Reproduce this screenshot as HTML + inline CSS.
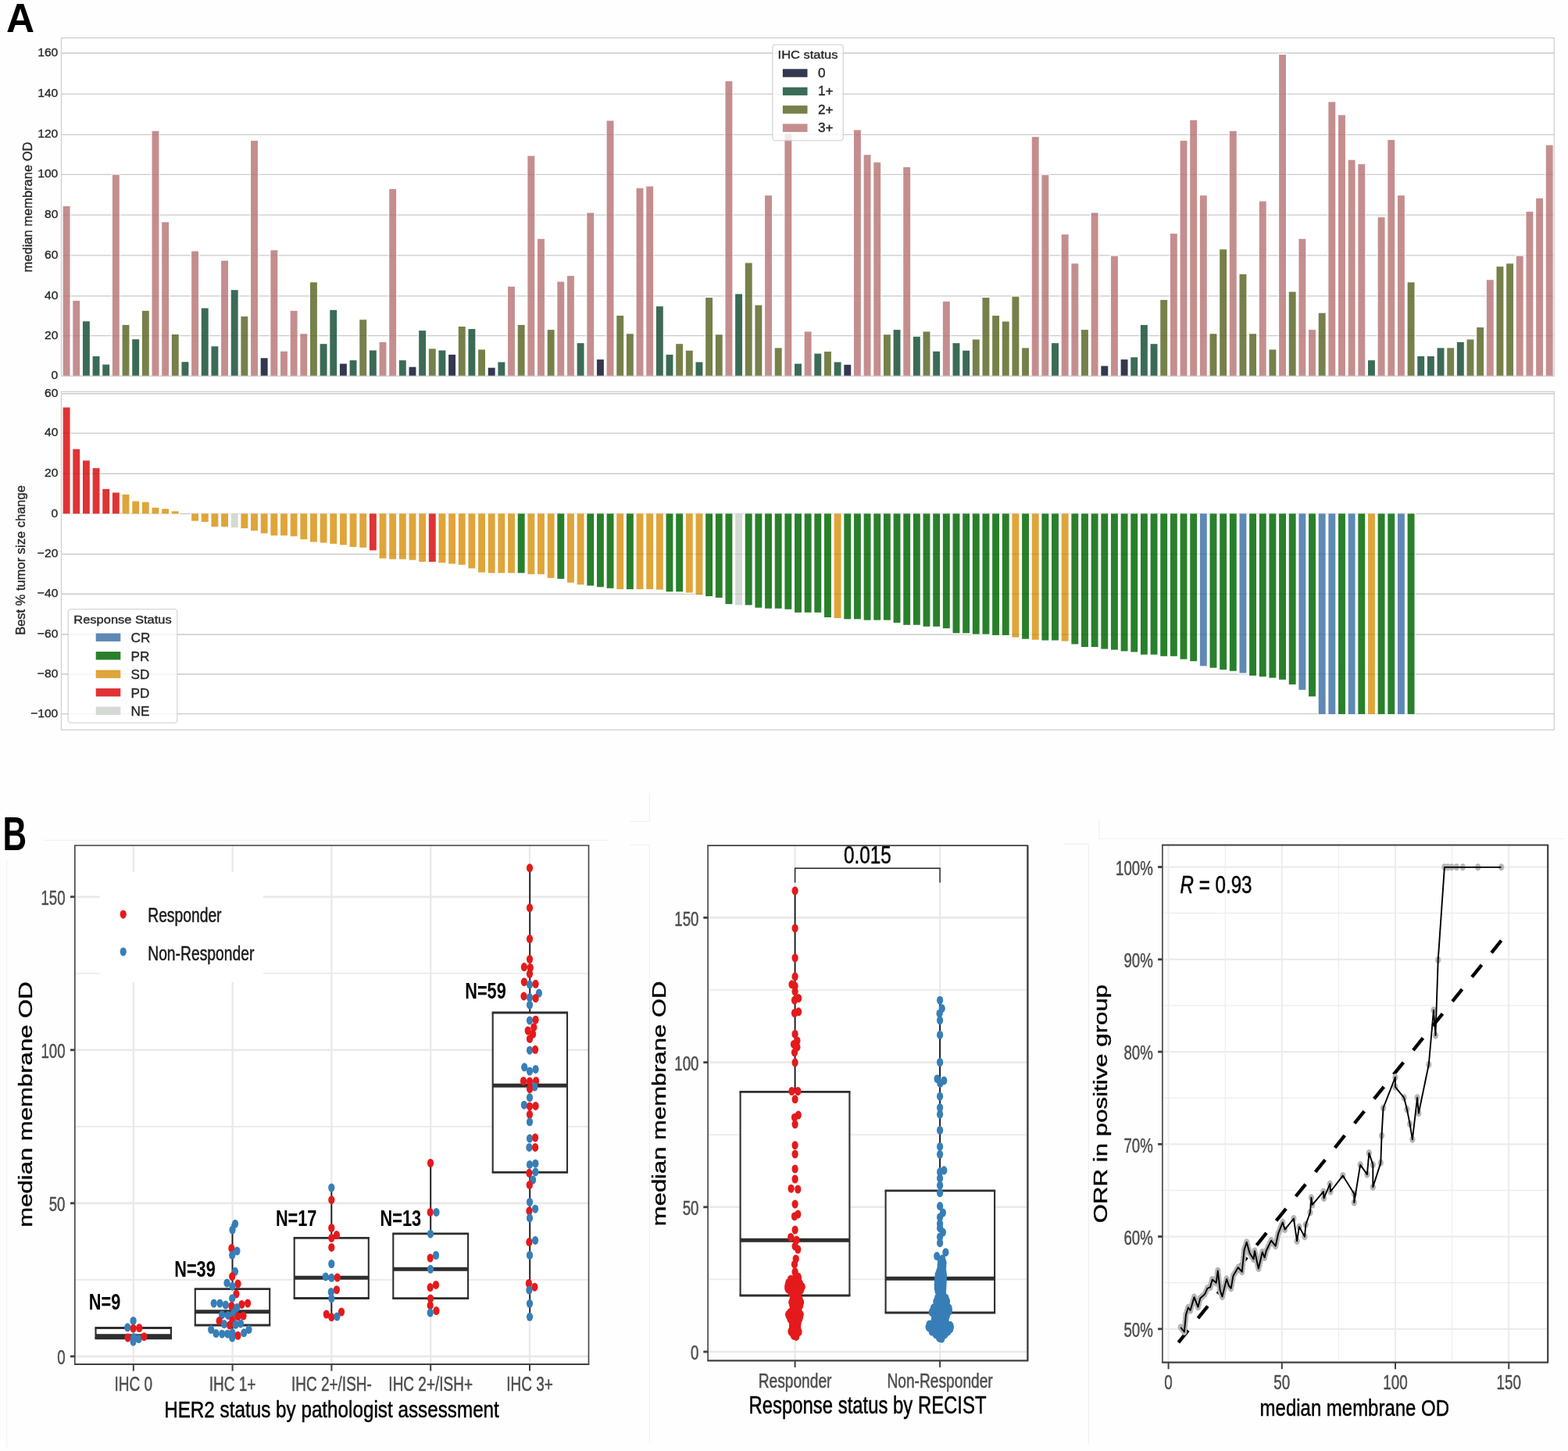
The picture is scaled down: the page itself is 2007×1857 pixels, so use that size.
<!DOCTYPE html>
<html lang="en"><head><meta charset="utf-8"><title>Figure</title>
<style>
html,body{margin:0;padding:0;background:#fff}
body{width:2007px;height:1857px;overflow:hidden}
svg{display:block}
svg text{font-family:"Liberation Sans",sans-serif;white-space:pre}
</style></head><body>
<svg xmlns="http://www.w3.org/2000/svg" width="2007" height="1857" viewBox="0 0 2007 1857">
<rect width="2007" height="1857" fill="#fefefe"/>
<line x1="55" y1="1075.4" x2="777.4" y2="1075.4" stroke="#f1f1f1" stroke-width="1.2"/>
<line x1="8.7" y1="1102" x2="8.7" y2="1852" stroke="#f1f1f1" stroke-width="1.2"/>
<line x1="805.9" y1="1051.4" x2="831.4" y2="1051.4" stroke="#f1f1f1" stroke-width="1.2"/>
<line x1="831.4" y1="1015.3" x2="831.4" y2="1051.4" stroke="#f1f1f1" stroke-width="1.2"/>
<line x1="805.9" y1="1081.4" x2="831.4" y2="1081.4" stroke="#f1f1f1" stroke-width="1.2"/>
<line x1="831.4" y1="1081.4" x2="831.4" y2="1846.5" stroke="#f1f1f1" stroke-width="1.2"/>
<line x1="1406.8" y1="1073.5" x2="2003" y2="1073.5" stroke="#f1f1f1" stroke-width="1.2"/>
<line x1="1406.8" y1="1048.5" x2="1406.8" y2="1073.5" stroke="#f1f1f1" stroke-width="1.2"/>
<line x1="1361.7" y1="1080.2" x2="1393.4" y2="1080.2" stroke="#f1f1f1" stroke-width="1.2"/>
<line x1="1393.4" y1="1080.2" x2="1393.4" y2="1848.8" stroke="#f1f1f1" stroke-width="1.2"/>
<g id="barsTop">
<rect x="78.5" y="48.5" width="1910.8" height="432.8" fill="#fff"/>
<line x1="78.5" y1="481.2" x2="1989.3" y2="481.2" stroke="#dbdbdb" stroke-width="1.4"/>
<line x1="78.5" y1="429.6" x2="1989.3" y2="429.6" stroke="#dbdbdb" stroke-width="1.4"/>
<line x1="78.5" y1="378.9" x2="1989.3" y2="378.9" stroke="#dbdbdb" stroke-width="1.4"/>
<line x1="78.5" y1="326.9" x2="1989.3" y2="326.9" stroke="#dbdbdb" stroke-width="1.4"/>
<line x1="78.5" y1="275.1" x2="1989.3" y2="275.1" stroke="#dbdbdb" stroke-width="1.4"/>
<line x1="78.5" y1="223.4" x2="1989.3" y2="223.4" stroke="#dbdbdb" stroke-width="1.4"/>
<line x1="78.5" y1="172.4" x2="1989.3" y2="172.4" stroke="#dbdbdb" stroke-width="1.4"/>
<line x1="78.5" y1="120.4" x2="1989.3" y2="120.4" stroke="#dbdbdb" stroke-width="1.4"/>
<line x1="78.5" y1="68" x2="1989.3" y2="68" stroke="#dbdbdb" stroke-width="1.4"/>
<rect x="79.03" y="262.3" width="12.1" height="219" fill="#fff"/>
<rect x="80.63" y="263.9" width="8.9" height="217.4" fill="#C58E8E"/>
<rect x="91.68" y="383.28" width="12.1" height="98.02" fill="#fff"/>
<rect x="93.28" y="384.88" width="8.9" height="96.42" fill="#C58E8E"/>
<rect x="104.34" y="409.65" width="12.1" height="71.65" fill="#fff"/>
<rect x="105.94" y="411.25" width="8.9" height="70.05" fill="#3B6B56"/>
<rect x="116.99" y="454.37" width="12.1" height="26.93" fill="#fff"/>
<rect x="118.59" y="455.97" width="8.9" height="25.33" fill="#3B6B56"/>
<rect x="129.64" y="464.97" width="12.1" height="16.33" fill="#fff"/>
<rect x="131.24" y="466.57" width="8.9" height="14.73" fill="#3B6B56"/>
<rect x="142.3" y="222.23" width="12.1" height="259.07" fill="#fff"/>
<rect x="143.9" y="223.83" width="8.9" height="257.47" fill="#C58E8E"/>
<rect x="154.95" y="414.3" width="12.1" height="67" fill="#fff"/>
<rect x="156.55" y="415.9" width="8.9" height="65.4" fill="#76804A"/>
<rect x="167.61" y="432.65" width="12.1" height="48.65" fill="#fff"/>
<rect x="169.21" y="434.25" width="8.9" height="47.05" fill="#3B6B56"/>
<rect x="180.26" y="396.2" width="12.1" height="85.1" fill="#fff"/>
<rect x="181.86" y="397.8" width="8.9" height="83.5" fill="#76804A"/>
<rect x="192.92" y="166.14" width="12.1" height="315.16" fill="#fff"/>
<rect x="194.52" y="167.74" width="8.9" height="313.56" fill="#C58E8E"/>
<rect x="205.57" y="282.72" width="12.1" height="198.58" fill="#fff"/>
<rect x="207.17" y="284.32" width="8.9" height="196.98" fill="#C58E8E"/>
<rect x="218.22" y="426.45" width="12.1" height="54.85" fill="#fff"/>
<rect x="219.82" y="428.05" width="8.9" height="53.25" fill="#76804A"/>
<rect x="230.88" y="461.61" width="12.1" height="19.69" fill="#fff"/>
<rect x="232.48" y="463.21" width="8.9" height="18.09" fill="#3B6B56"/>
<rect x="243.53" y="319.95" width="12.1" height="161.35" fill="#fff"/>
<rect x="245.13" y="321.55" width="8.9" height="159.75" fill="#C58E8E"/>
<rect x="256.19" y="392.84" width="12.1" height="88.46" fill="#fff"/>
<rect x="257.79" y="394.44" width="8.9" height="86.86" fill="#3B6B56"/>
<rect x="268.84" y="441.7" width="12.1" height="39.6" fill="#fff"/>
<rect x="270.44" y="443.3" width="8.9" height="38" fill="#3B6B56"/>
<rect x="281.5" y="332.1" width="12.1" height="149.2" fill="#fff"/>
<rect x="283.1" y="333.7" width="8.9" height="147.6" fill="#C58E8E"/>
<rect x="294.15" y="369.58" width="12.1" height="111.72" fill="#fff"/>
<rect x="295.75" y="371.18" width="8.9" height="110.12" fill="#3B6B56"/>
<rect x="306.8" y="403.44" width="12.1" height="77.86" fill="#fff"/>
<rect x="308.4" y="405.04" width="8.9" height="76.26" fill="#76804A"/>
<rect x="319.46" y="178.55" width="12.1" height="302.75" fill="#fff"/>
<rect x="321.06" y="180.15" width="8.9" height="301.15" fill="#C58E8E"/>
<rect x="332.11" y="456.69" width="12.1" height="24.61" fill="#fff"/>
<rect x="333.71" y="458.29" width="8.9" height="23.01" fill="#33374F"/>
<rect x="344.77" y="318.65" width="12.1" height="162.65" fill="#fff"/>
<rect x="346.37" y="320.25" width="8.9" height="161.05" fill="#C58E8E"/>
<rect x="357.42" y="448.16" width="12.1" height="33.14" fill="#fff"/>
<rect x="359.02" y="449.76" width="8.9" height="31.54" fill="#C58E8E"/>
<rect x="370.08" y="396.2" width="12.1" height="85.1" fill="#fff"/>
<rect x="371.68" y="397.8" width="8.9" height="83.5" fill="#C58E8E"/>
<rect x="382.73" y="425.67" width="12.1" height="55.63" fill="#fff"/>
<rect x="384.33" y="427.27" width="8.9" height="54.03" fill="#C58E8E"/>
<rect x="395.38" y="359.76" width="12.1" height="121.54" fill="#fff"/>
<rect x="396.98" y="361.36" width="8.9" height="119.94" fill="#76804A"/>
<rect x="408.04" y="438.6" width="12.1" height="42.7" fill="#fff"/>
<rect x="409.64" y="440.2" width="8.9" height="41.1" fill="#3B6B56"/>
<rect x="420.69" y="395.17" width="12.1" height="86.13" fill="#fff"/>
<rect x="422.29" y="396.77" width="8.9" height="84.53" fill="#3B6B56"/>
<rect x="433.35" y="463.93" width="12.1" height="17.37" fill="#fff"/>
<rect x="434.95" y="465.53" width="8.9" height="15.77" fill="#33374F"/>
<rect x="446" y="459.54" width="12.1" height="21.76" fill="#fff"/>
<rect x="447.6" y="461.14" width="8.9" height="20.16" fill="#3B6B56"/>
<rect x="458.66" y="407.58" width="12.1" height="73.72" fill="#fff"/>
<rect x="460.26" y="409.18" width="8.9" height="72.12" fill="#76804A"/>
<rect x="471.31" y="446.87" width="12.1" height="34.43" fill="#fff"/>
<rect x="472.91" y="448.47" width="8.9" height="32.83" fill="#3B6B56"/>
<rect x="483.96" y="436.27" width="12.1" height="45.03" fill="#fff"/>
<rect x="485.56" y="437.87" width="8.9" height="43.43" fill="#C58E8E"/>
<rect x="496.62" y="240.33" width="12.1" height="240.97" fill="#fff"/>
<rect x="498.22" y="241.93" width="8.9" height="239.37" fill="#C58E8E"/>
<rect x="509.27" y="459.54" width="12.1" height="21.76" fill="#fff"/>
<rect x="510.87" y="461.14" width="8.9" height="20.16" fill="#3B6B56"/>
<rect x="521.93" y="468.07" width="12.1" height="13.23" fill="#fff"/>
<rect x="523.53" y="469.67" width="8.9" height="11.63" fill="#33374F"/>
<rect x="534.58" y="421.54" width="12.1" height="59.76" fill="#fff"/>
<rect x="536.18" y="423.14" width="8.9" height="58.16" fill="#3B6B56"/>
<rect x="547.24" y="444.8" width="12.1" height="36.5" fill="#fff"/>
<rect x="548.84" y="446.4" width="8.9" height="34.9" fill="#76804A"/>
<rect x="559.89" y="446.87" width="12.1" height="34.43" fill="#fff"/>
<rect x="561.49" y="448.47" width="8.9" height="32.83" fill="#3B6B56"/>
<rect x="572.55" y="452.3" width="12.1" height="29" fill="#fff"/>
<rect x="574.15" y="453.9" width="8.9" height="27.4" fill="#33374F"/>
<rect x="585.2" y="416.37" width="12.1" height="64.93" fill="#fff"/>
<rect x="586.8" y="417.97" width="8.9" height="63.33" fill="#76804A"/>
<rect x="597.85" y="419.47" width="12.1" height="61.83" fill="#fff"/>
<rect x="599.45" y="421.07" width="8.9" height="60.23" fill="#3B6B56"/>
<rect x="610.51" y="445.84" width="12.1" height="35.46" fill="#fff"/>
<rect x="612.11" y="447.44" width="8.9" height="33.86" fill="#76804A"/>
<rect x="623.16" y="469.1" width="12.1" height="12.2" fill="#fff"/>
<rect x="624.76" y="470.7" width="8.9" height="10.6" fill="#33374F"/>
<rect x="635.82" y="461.86" width="12.1" height="19.44" fill="#fff"/>
<rect x="637.42" y="463.46" width="8.9" height="17.84" fill="#3B6B56"/>
<rect x="648.47" y="365.18" width="12.1" height="116.12" fill="#fff"/>
<rect x="650.07" y="366.78" width="8.9" height="114.52" fill="#C58E8E"/>
<rect x="661.13" y="414.3" width="12.1" height="67" fill="#fff"/>
<rect x="662.73" y="415.9" width="8.9" height="65.4" fill="#76804A"/>
<rect x="673.78" y="197.94" width="12.1" height="283.37" fill="#fff"/>
<rect x="675.38" y="199.54" width="8.9" height="281.76" fill="#C58E8E"/>
<rect x="686.43" y="304.18" width="12.1" height="177.12" fill="#fff"/>
<rect x="688.03" y="305.78" width="8.9" height="175.52" fill="#C58E8E"/>
<rect x="699.09" y="420.5" width="12.1" height="60.8" fill="#fff"/>
<rect x="700.69" y="422.1" width="8.9" height="59.2" fill="#76804A"/>
<rect x="711.74" y="358.98" width="12.1" height="122.32" fill="#fff"/>
<rect x="713.34" y="360.58" width="8.9" height="120.72" fill="#C58E8E"/>
<rect x="724.4" y="351.48" width="12.1" height="129.82" fill="#fff"/>
<rect x="726" y="353.08" width="8.9" height="128.22" fill="#C58E8E"/>
<rect x="737.05" y="437.56" width="12.1" height="43.74" fill="#fff"/>
<rect x="738.65" y="439.16" width="8.9" height="42.14" fill="#3B6B56"/>
<rect x="749.71" y="270.83" width="12.1" height="210.47" fill="#fff"/>
<rect x="751.31" y="272.43" width="8.9" height="208.87" fill="#C58E8E"/>
<rect x="762.36" y="458.5" width="12.1" height="22.8" fill="#fff"/>
<rect x="763.96" y="460.1" width="8.9" height="21.2" fill="#33374F"/>
<rect x="775.01" y="152.96" width="12.1" height="328.34" fill="#fff"/>
<rect x="776.61" y="154.56" width="8.9" height="326.74" fill="#C58E8E"/>
<rect x="787.67" y="402.41" width="12.1" height="78.89" fill="#fff"/>
<rect x="789.27" y="404.01" width="8.9" height="77.29" fill="#76804A"/>
<rect x="800.32" y="425.67" width="12.1" height="55.63" fill="#fff"/>
<rect x="801.92" y="427.27" width="8.9" height="54.03" fill="#76804A"/>
<rect x="812.98" y="239.3" width="12.1" height="242" fill="#fff"/>
<rect x="814.58" y="240.9" width="8.9" height="240.41" fill="#C58E8E"/>
<rect x="825.63" y="236.97" width="12.1" height="244.33" fill="#fff"/>
<rect x="827.23" y="238.57" width="8.9" height="242.73" fill="#C58E8E"/>
<rect x="838.29" y="390.52" width="12.1" height="90.78" fill="#fff"/>
<rect x="839.89" y="392.12" width="8.9" height="89.18" fill="#3B6B56"/>
<rect x="850.94" y="452.3" width="12.1" height="29" fill="#fff"/>
<rect x="852.54" y="453.9" width="8.9" height="27.4" fill="#3B6B56"/>
<rect x="863.59" y="438.6" width="12.1" height="42.7" fill="#fff"/>
<rect x="865.19" y="440.2" width="8.9" height="41.1" fill="#76804A"/>
<rect x="876.25" y="447.13" width="12.1" height="34.17" fill="#fff"/>
<rect x="877.85" y="448.73" width="8.9" height="32.57" fill="#76804A"/>
<rect x="888.9" y="461.86" width="12.1" height="19.44" fill="#fff"/>
<rect x="890.5" y="463.46" width="8.9" height="17.84" fill="#3B6B56"/>
<rect x="901.56" y="379.4" width="12.1" height="101.9" fill="#fff"/>
<rect x="903.16" y="381" width="8.9" height="100.3" fill="#76804A"/>
<rect x="914.21" y="426.71" width="12.1" height="54.59" fill="#fff"/>
<rect x="915.81" y="428.31" width="8.9" height="52.99" fill="#76804A"/>
<rect x="926.87" y="102.29" width="12.1" height="379.01" fill="#fff"/>
<rect x="928.47" y="103.89" width="8.9" height="377.41" fill="#C58E8E"/>
<rect x="939.52" y="374.75" width="12.1" height="106.55" fill="#fff"/>
<rect x="941.12" y="376.35" width="8.9" height="104.95" fill="#3B6B56"/>
<rect x="952.17" y="334.94" width="12.1" height="146.36" fill="#fff"/>
<rect x="953.77" y="336.54" width="8.9" height="144.76" fill="#76804A"/>
<rect x="964.83" y="388.97" width="12.1" height="92.33" fill="#fff"/>
<rect x="966.43" y="390.57" width="8.9" height="90.73" fill="#76804A"/>
<rect x="977.48" y="248.6" width="12.1" height="232.7" fill="#fff"/>
<rect x="979.08" y="250.2" width="8.9" height="231.1" fill="#C58E8E"/>
<rect x="990.14" y="443.77" width="12.1" height="37.53" fill="#fff"/>
<rect x="991.74" y="445.37" width="8.9" height="35.93" fill="#76804A"/>
<rect x="1002.79" y="169.5" width="12.1" height="311.8" fill="#fff"/>
<rect x="1004.39" y="171.1" width="8.9" height="310.2" fill="#C58E8E"/>
<rect x="1015.45" y="463.93" width="12.1" height="17.37" fill="#fff"/>
<rect x="1017.05" y="465.53" width="8.9" height="15.77" fill="#3B6B56"/>
<rect x="1028.1" y="422.83" width="12.1" height="58.47" fill="#fff"/>
<rect x="1029.7" y="424.43" width="8.9" height="56.87" fill="#C58E8E"/>
<rect x="1040.75" y="451.01" width="12.1" height="30.29" fill="#fff"/>
<rect x="1042.35" y="452.61" width="8.9" height="28.69" fill="#3B6B56"/>
<rect x="1053.41" y="448.42" width="12.1" height="32.88" fill="#fff"/>
<rect x="1055.01" y="450.02" width="8.9" height="31.28" fill="#76804A"/>
<rect x="1066.06" y="461.86" width="12.1" height="19.44" fill="#fff"/>
<rect x="1067.66" y="463.46" width="8.9" height="17.84" fill="#3B6B56"/>
<rect x="1078.72" y="465.22" width="12.1" height="16.08" fill="#fff"/>
<rect x="1080.32" y="466.82" width="8.9" height="14.48" fill="#33374F"/>
<rect x="1091.37" y="164.85" width="12.1" height="316.45" fill="#fff"/>
<rect x="1092.97" y="166.45" width="8.9" height="314.85" fill="#C58E8E"/>
<rect x="1104.03" y="196.64" width="12.1" height="284.66" fill="#fff"/>
<rect x="1105.63" y="198.24" width="8.9" height="283.06" fill="#C58E8E"/>
<rect x="1116.68" y="206.21" width="12.1" height="275.09" fill="#fff"/>
<rect x="1118.28" y="207.81" width="8.9" height="273.49" fill="#C58E8E"/>
<rect x="1129.33" y="426.71" width="12.1" height="54.59" fill="#fff"/>
<rect x="1130.93" y="428.31" width="8.9" height="52.99" fill="#76804A"/>
<rect x="1141.99" y="420.5" width="12.1" height="60.8" fill="#fff"/>
<rect x="1143.59" y="422.1" width="8.9" height="59.2" fill="#3B6B56"/>
<rect x="1154.64" y="212.41" width="12.1" height="268.89" fill="#fff"/>
<rect x="1156.24" y="214.01" width="8.9" height="267.29" fill="#C58E8E"/>
<rect x="1167.3" y="429.29" width="12.1" height="52.01" fill="#fff"/>
<rect x="1168.9" y="430.89" width="8.9" height="50.41" fill="#3B6B56"/>
<rect x="1179.95" y="422.83" width="12.1" height="58.47" fill="#fff"/>
<rect x="1181.55" y="424.43" width="8.9" height="56.87" fill="#76804A"/>
<rect x="1192.61" y="448.16" width="12.1" height="33.14" fill="#fff"/>
<rect x="1194.21" y="449.76" width="8.9" height="31.54" fill="#3B6B56"/>
<rect x="1205.26" y="384.31" width="12.1" height="96.99" fill="#fff"/>
<rect x="1206.86" y="385.91" width="8.9" height="95.39" fill="#C58E8E"/>
<rect x="1217.91" y="437.56" width="12.1" height="43.74" fill="#fff"/>
<rect x="1219.51" y="439.16" width="8.9" height="42.14" fill="#3B6B56"/>
<rect x="1230.57" y="447.13" width="12.1" height="34.17" fill="#fff"/>
<rect x="1232.17" y="448.73" width="8.9" height="32.57" fill="#3B6B56"/>
<rect x="1243.22" y="432.91" width="12.1" height="48.39" fill="#fff"/>
<rect x="1244.82" y="434.51" width="8.9" height="46.79" fill="#76804A"/>
<rect x="1255.88" y="379.4" width="12.1" height="101.9" fill="#fff"/>
<rect x="1257.48" y="381" width="8.9" height="100.3" fill="#76804A"/>
<rect x="1268.53" y="402.41" width="12.1" height="78.89" fill="#fff"/>
<rect x="1270.13" y="404.01" width="8.9" height="77.29" fill="#76804A"/>
<rect x="1281.19" y="409.9" width="12.1" height="71.4" fill="#fff"/>
<rect x="1282.79" y="411.5" width="8.9" height="69.8" fill="#76804A"/>
<rect x="1293.84" y="378.11" width="12.1" height="103.19" fill="#fff"/>
<rect x="1295.44" y="379.71" width="8.9" height="101.59" fill="#76804A"/>
<rect x="1306.49" y="443.77" width="12.1" height="37.53" fill="#fff"/>
<rect x="1308.09" y="445.37" width="8.9" height="35.93" fill="#76804A"/>
<rect x="1319.15" y="173.64" width="12.1" height="307.66" fill="#fff"/>
<rect x="1320.75" y="175.24" width="8.9" height="306.06" fill="#C58E8E"/>
<rect x="1331.8" y="222.49" width="12.1" height="258.81" fill="#fff"/>
<rect x="1333.4" y="224.09" width="8.9" height="257.21" fill="#C58E8E"/>
<rect x="1344.46" y="437.56" width="12.1" height="43.74" fill="#fff"/>
<rect x="1346.06" y="439.16" width="8.9" height="42.14" fill="#3B6B56"/>
<rect x="1357.11" y="298.49" width="12.1" height="182.81" fill="#fff"/>
<rect x="1358.71" y="300.09" width="8.9" height="181.21" fill="#C58E8E"/>
<rect x="1369.77" y="335.72" width="12.1" height="145.58" fill="#fff"/>
<rect x="1371.37" y="337.32" width="8.9" height="143.98" fill="#C58E8E"/>
<rect x="1382.42" y="420.5" width="12.1" height="60.8" fill="#fff"/>
<rect x="1384.02" y="422.1" width="8.9" height="59.2" fill="#76804A"/>
<rect x="1395.07" y="270.83" width="12.1" height="210.47" fill="#fff"/>
<rect x="1396.67" y="272.43" width="8.9" height="208.87" fill="#C58E8E"/>
<rect x="1407.73" y="466.77" width="12.1" height="14.53" fill="#fff"/>
<rect x="1409.33" y="468.38" width="8.9" height="12.93" fill="#33374F"/>
<rect x="1420.38" y="326.15" width="12.1" height="155.15" fill="#fff"/>
<rect x="1421.98" y="327.75" width="8.9" height="153.55" fill="#C58E8E"/>
<rect x="1433.04" y="458.5" width="12.1" height="22.8" fill="#fff"/>
<rect x="1434.64" y="460.1" width="8.9" height="21.2" fill="#33374F"/>
<rect x="1445.69" y="455.66" width="12.1" height="25.64" fill="#fff"/>
<rect x="1447.29" y="457.26" width="8.9" height="24.04" fill="#3B6B56"/>
<rect x="1458.35" y="414.3" width="12.1" height="67" fill="#fff"/>
<rect x="1459.95" y="415.9" width="8.9" height="65.4" fill="#3B6B56"/>
<rect x="1471" y="438.6" width="12.1" height="42.7" fill="#fff"/>
<rect x="1472.6" y="440.2" width="8.9" height="41.1" fill="#3B6B56"/>
<rect x="1483.65" y="382.25" width="12.1" height="99.05" fill="#fff"/>
<rect x="1485.25" y="383.85" width="8.9" height="97.45" fill="#76804A"/>
<rect x="1496.31" y="297.46" width="12.1" height="183.84" fill="#fff"/>
<rect x="1497.91" y="299.06" width="8.9" height="182.24" fill="#C58E8E"/>
<rect x="1508.96" y="178.55" width="12.1" height="302.75" fill="#fff"/>
<rect x="1510.56" y="180.15" width="8.9" height="301.15" fill="#C58E8E"/>
<rect x="1521.62" y="152.18" width="12.1" height="329.12" fill="#fff"/>
<rect x="1523.22" y="153.78" width="8.9" height="327.52" fill="#C58E8E"/>
<rect x="1534.27" y="248.6" width="12.1" height="232.7" fill="#fff"/>
<rect x="1535.87" y="250.2" width="8.9" height="231.1" fill="#C58E8E"/>
<rect x="1546.93" y="425.67" width="12.1" height="55.63" fill="#fff"/>
<rect x="1548.53" y="427.27" width="8.9" height="54.03" fill="#76804A"/>
<rect x="1559.58" y="317.62" width="12.1" height="163.68" fill="#fff"/>
<rect x="1561.18" y="319.22" width="8.9" height="162.08" fill="#76804A"/>
<rect x="1572.24" y="166.14" width="12.1" height="315.16" fill="#fff"/>
<rect x="1573.84" y="167.74" width="8.9" height="313.56" fill="#C58E8E"/>
<rect x="1584.89" y="349.42" width="12.1" height="131.88" fill="#fff"/>
<rect x="1586.49" y="351.02" width="8.9" height="130.28" fill="#76804A"/>
<rect x="1597.54" y="425.67" width="12.1" height="55.63" fill="#fff"/>
<rect x="1599.14" y="427.27" width="8.9" height="54.03" fill="#76804A"/>
<rect x="1610.2" y="256.1" width="12.1" height="225.2" fill="#fff"/>
<rect x="1611.8" y="257.7" width="8.9" height="223.6" fill="#C58E8E"/>
<rect x="1622.85" y="445.84" width="12.1" height="35.46" fill="#fff"/>
<rect x="1624.45" y="447.44" width="8.9" height="33.86" fill="#76804A"/>
<rect x="1635.51" y="68.43" width="12.1" height="412.87" fill="#fff"/>
<rect x="1637.11" y="70.03" width="8.9" height="411.27" fill="#C58E8E"/>
<rect x="1648.16" y="371.91" width="12.1" height="109.39" fill="#fff"/>
<rect x="1649.76" y="373.51" width="8.9" height="107.79" fill="#76804A"/>
<rect x="1660.82" y="304.18" width="12.1" height="177.12" fill="#fff"/>
<rect x="1662.42" y="305.78" width="8.9" height="175.52" fill="#C58E8E"/>
<rect x="1673.47" y="420.5" width="12.1" height="60.8" fill="#fff"/>
<rect x="1675.07" y="422.1" width="8.9" height="59.2" fill="#C58E8E"/>
<rect x="1686.12" y="399.05" width="12.1" height="82.25" fill="#fff"/>
<rect x="1687.72" y="400.65" width="8.9" height="80.65" fill="#76804A"/>
<rect x="1698.78" y="128.92" width="12.1" height="352.38" fill="#fff"/>
<rect x="1700.38" y="130.52" width="8.9" height="350.78" fill="#C58E8E"/>
<rect x="1711.43" y="145.72" width="12.1" height="335.58" fill="#fff"/>
<rect x="1713.03" y="147.32" width="8.9" height="333.98" fill="#C58E8E"/>
<rect x="1724.09" y="203.11" width="12.1" height="278.19" fill="#fff"/>
<rect x="1725.69" y="204.71" width="8.9" height="276.59" fill="#C58E8E"/>
<rect x="1736.74" y="208.53" width="12.1" height="272.77" fill="#fff"/>
<rect x="1738.34" y="210.13" width="8.9" height="271.17" fill="#C58E8E"/>
<rect x="1749.4" y="459.54" width="12.1" height="21.76" fill="#fff"/>
<rect x="1751" y="461.14" width="8.9" height="20.16" fill="#3B6B56"/>
<rect x="1762.05" y="276.52" width="12.1" height="204.78" fill="#fff"/>
<rect x="1763.65" y="278.12" width="8.9" height="203.18" fill="#C58E8E"/>
<rect x="1774.7" y="177.51" width="12.1" height="303.79" fill="#fff"/>
<rect x="1776.3" y="179.11" width="8.9" height="302.19" fill="#C58E8E"/>
<rect x="1787.36" y="248.6" width="12.1" height="232.7" fill="#fff"/>
<rect x="1788.96" y="250.2" width="8.9" height="231.1" fill="#C58E8E"/>
<rect x="1800.01" y="359.76" width="12.1" height="121.54" fill="#fff"/>
<rect x="1801.61" y="361.36" width="8.9" height="119.94" fill="#76804A"/>
<rect x="1812.67" y="454.37" width="12.1" height="26.93" fill="#fff"/>
<rect x="1814.27" y="455.97" width="8.9" height="25.33" fill="#3B6B56"/>
<rect x="1825.32" y="454.37" width="12.1" height="26.93" fill="#fff"/>
<rect x="1826.92" y="455.97" width="8.9" height="25.33" fill="#3B6B56"/>
<rect x="1837.98" y="443.77" width="12.1" height="37.53" fill="#fff"/>
<rect x="1839.58" y="445.37" width="8.9" height="35.93" fill="#3B6B56"/>
<rect x="1850.63" y="443.77" width="12.1" height="37.53" fill="#fff"/>
<rect x="1852.23" y="445.37" width="8.9" height="35.93" fill="#76804A"/>
<rect x="1863.28" y="436.27" width="12.1" height="45.03" fill="#fff"/>
<rect x="1864.88" y="437.87" width="8.9" height="43.43" fill="#3B6B56"/>
<rect x="1875.94" y="432.91" width="12.1" height="48.39" fill="#fff"/>
<rect x="1877.54" y="434.51" width="8.9" height="46.79" fill="#76804A"/>
<rect x="1888.59" y="417.4" width="12.1" height="63.9" fill="#fff"/>
<rect x="1890.19" y="419" width="8.9" height="62.3" fill="#76804A"/>
<rect x="1901.25" y="356.65" width="12.1" height="124.65" fill="#fff"/>
<rect x="1902.85" y="358.25" width="8.9" height="123.05" fill="#C58E8E"/>
<rect x="1913.9" y="339.59" width="12.1" height="141.71" fill="#fff"/>
<rect x="1915.5" y="341.19" width="8.9" height="140.11" fill="#76804A"/>
<rect x="1926.56" y="335.72" width="12.1" height="145.58" fill="#fff"/>
<rect x="1928.16" y="337.32" width="8.9" height="143.98" fill="#76804A"/>
<rect x="1939.21" y="326.15" width="12.1" height="155.15" fill="#fff"/>
<rect x="1940.81" y="327.75" width="8.9" height="153.55" fill="#C58E8E"/>
<rect x="1951.86" y="269.28" width="12.1" height="212.02" fill="#fff"/>
<rect x="1953.46" y="270.88" width="8.9" height="210.42" fill="#C58E8E"/>
<rect x="1964.52" y="252.22" width="12.1" height="229.08" fill="#fff"/>
<rect x="1966.12" y="253.82" width="8.9" height="227.48" fill="#C58E8E"/>
<rect x="1977.17" y="184.23" width="12.1" height="297.07" fill="#fff"/>
<rect x="1978.77" y="185.83" width="8.9" height="295.47" fill="#C58E8E"/>
<line x1="78.5" y1="429.6" x2="1989.3" y2="429.6" stroke="#000" stroke-width="1.4" opacity="0.07"/>
<line x1="78.5" y1="378.9" x2="1989.3" y2="378.9" stroke="#000" stroke-width="1.4" opacity="0.07"/>
<line x1="78.5" y1="326.9" x2="1989.3" y2="326.9" stroke="#000" stroke-width="1.4" opacity="0.07"/>
<line x1="78.5" y1="275.1" x2="1989.3" y2="275.1" stroke="#000" stroke-width="1.4" opacity="0.07"/>
<line x1="78.5" y1="223.4" x2="1989.3" y2="223.4" stroke="#000" stroke-width="1.4" opacity="0.07"/>
<line x1="78.5" y1="172.4" x2="1989.3" y2="172.4" stroke="#000" stroke-width="1.4" opacity="0.07"/>
<line x1="78.5" y1="120.4" x2="1989.3" y2="120.4" stroke="#000" stroke-width="1.4" opacity="0.07"/>
<line x1="78.5" y1="68" x2="1989.3" y2="68" stroke="#000" stroke-width="1.4" opacity="0.07"/>
<rect x="78.5" y="48.5" width="1910.8" height="432.8" fill="none" stroke="#cfcfcf" stroke-width="1.3"/>
</g>
<text transform="translate(74.3,485.2) scale(1.02,1)" font-size="15.3" text-anchor="end" fill="#262626" stroke="#262626" stroke-width="0.35">0</text>
<text transform="translate(74.3,433.6) scale(1.02,1)" font-size="15.3" text-anchor="end" fill="#262626" stroke="#262626" stroke-width="0.35">20</text>
<text transform="translate(74.3,382.9) scale(1.02,1)" font-size="15.3" text-anchor="end" fill="#262626" stroke="#262626" stroke-width="0.35">40</text>
<text transform="translate(74.3,330.9) scale(1.02,1)" font-size="15.3" text-anchor="end" fill="#262626" stroke="#262626" stroke-width="0.35">60</text>
<text transform="translate(74.3,279.1) scale(1.02,1)" font-size="15.3" text-anchor="end" fill="#262626" stroke="#262626" stroke-width="0.35">80</text>
<text transform="translate(74.3,227.4) scale(1.02,1)" font-size="15.3" text-anchor="end" fill="#262626" stroke="#262626" stroke-width="0.35">100</text>
<text transform="translate(74.3,176.4) scale(1.02,1)" font-size="15.3" text-anchor="end" fill="#262626" stroke="#262626" stroke-width="0.35">120</text>
<text transform="translate(74.3,124.4) scale(1.02,1)" font-size="15.3" text-anchor="end" fill="#262626" stroke="#262626" stroke-width="0.35">140</text>
<text transform="translate(74.3,72) scale(1.02,1)" font-size="15.3" text-anchor="end" fill="#262626" stroke="#262626" stroke-width="0.35">160</text>
<text transform="translate(41,265) rotate(-90)" font-size="16.5" text-anchor="middle" fill="#262626" stroke="#262626" stroke-width="0.35">median membrane OD</text>
<rect x="988.8" y="57.1" width="90.5" height="122.7" rx="3.5" fill="#fff" fill-opacity="0.8" stroke="#ccc" stroke-opacity="0.8" stroke-width="1.3"/>
<text transform="translate(1034.05,75.2) scale(1.07,1)" font-size="15.4" text-anchor="middle" fill="#262626" stroke="#262626" stroke-width="0.35">IHC status</text>
<rect x="1001.9" y="88.3" width="31.6" height="10.4" fill="#33374F"/>
<text transform="translate(1047,99) scale(1.04,1)" font-size="16.5" fill="#262626" stroke="#262626" stroke-width="0.35">0</text>
<rect x="1001.9" y="111.7" width="31.6" height="10.4" fill="#3B6B56"/>
<text transform="translate(1047,122.4) scale(1.04,1)" font-size="16.5" fill="#262626" stroke="#262626" stroke-width="0.35">1+</text>
<rect x="1001.9" y="135.1" width="31.6" height="10.4" fill="#76804A"/>
<text transform="translate(1047,145.8) scale(1.04,1)" font-size="16.5" fill="#262626" stroke="#262626" stroke-width="0.35">2+</text>
<rect x="1001.9" y="158.5" width="31.6" height="10.4" fill="#C58E8E"/>
<text transform="translate(1047,169.2) scale(1.04,1)" font-size="16.5" fill="#262626" stroke="#262626" stroke-width="0.35">3+</text>
<g id="barsWF">
<rect x="78.5" y="501.2" width="1910.8" height="432.8" fill="#fff"/>
<line x1="78.5" y1="913.6" x2="1989.3" y2="913.6" stroke="#dbdbdb" stroke-width="1.4"/>
<line x1="78.5" y1="862.7" x2="1989.3" y2="862.7" stroke="#dbdbdb" stroke-width="1.4"/>
<line x1="78.5" y1="812" x2="1989.3" y2="812" stroke="#dbdbdb" stroke-width="1.4"/>
<line x1="78.5" y1="760.2" x2="1989.3" y2="760.2" stroke="#dbdbdb" stroke-width="1.4"/>
<line x1="78.5" y1="709.2" x2="1989.3" y2="709.2" stroke="#dbdbdb" stroke-width="1.4"/>
<line x1="78.5" y1="657.5" x2="1989.3" y2="657.5" stroke="#dbdbdb" stroke-width="1.4"/>
<line x1="78.5" y1="606.2" x2="1989.3" y2="606.2" stroke="#dbdbdb" stroke-width="1.4"/>
<line x1="78.5" y1="554.4" x2="1989.3" y2="554.4" stroke="#dbdbdb" stroke-width="1.4"/>
<line x1="78.5" y1="503.7" x2="1989.3" y2="503.7" stroke="#dbdbdb" stroke-width="1.4"/>
<rect x="79.03" y="519.85" width="12.1" height="139.15" fill="#fff"/>
<rect x="80.63" y="521.45" width="8.9" height="135.95" fill="#E03336"/>
<rect x="91.68" y="573.21" width="12.1" height="85.79" fill="#fff"/>
<rect x="93.28" y="574.81" width="8.9" height="82.59" fill="#E03336"/>
<rect x="104.34" y="587.83" width="12.1" height="71.17" fill="#fff"/>
<rect x="105.94" y="589.43" width="8.9" height="67.97" fill="#E03336"/>
<rect x="116.99" y="597.57" width="12.1" height="61.43" fill="#fff"/>
<rect x="118.59" y="599.17" width="8.9" height="58.23" fill="#E03336"/>
<rect x="129.64" y="624.25" width="12.1" height="34.75" fill="#fff"/>
<rect x="131.24" y="625.85" width="8.9" height="31.55" fill="#E03336"/>
<rect x="142.3" y="628.87" width="12.1" height="30.13" fill="#fff"/>
<rect x="143.9" y="630.47" width="8.9" height="26.93" fill="#E03336"/>
<rect x="154.95" y="631.18" width="12.1" height="27.82" fill="#fff"/>
<rect x="156.55" y="632.78" width="8.9" height="24.62" fill="#DFA53A"/>
<rect x="167.61" y="639.9" width="12.1" height="19.1" fill="#fff"/>
<rect x="169.21" y="641.5" width="8.9" height="15.9" fill="#DFA53A"/>
<rect x="180.26" y="640.92" width="12.1" height="18.08" fill="#fff"/>
<rect x="181.86" y="642.52" width="8.9" height="14.88" fill="#DFA53A"/>
<rect x="192.92" y="648.1" width="12.1" height="10.9" fill="#fff"/>
<rect x="194.52" y="649.7" width="8.9" height="7.7" fill="#DFA53A"/>
<rect x="205.57" y="649.64" width="12.1" height="9.36" fill="#fff"/>
<rect x="207.17" y="651.24" width="8.9" height="6.16" fill="#DFA53A"/>
<rect x="218.22" y="652.72" width="12.1" height="6.28" fill="#fff"/>
<rect x="219.82" y="654.32" width="8.9" height="3.08" fill="#DFA53A"/>
<rect x="243.53" y="655.8" width="12.1" height="12.43" fill="#fff"/>
<rect x="245.13" y="657.4" width="8.9" height="9.23" fill="#DFA53A"/>
<rect x="256.19" y="655.8" width="12.1" height="13.72" fill="#fff"/>
<rect x="257.79" y="657.4" width="8.9" height="10.52" fill="#DFA53A"/>
<rect x="268.84" y="655.8" width="12.1" height="19.87" fill="#fff"/>
<rect x="270.44" y="657.4" width="8.9" height="16.67" fill="#DFA53A"/>
<rect x="281.5" y="655.8" width="12.1" height="19.87" fill="#fff"/>
<rect x="283.1" y="657.4" width="8.9" height="16.67" fill="#DFA53A"/>
<rect x="294.15" y="655.8" width="12.1" height="20.9" fill="#fff"/>
<rect x="295.75" y="657.4" width="8.9" height="17.7" fill="#D4D9D3"/>
<rect x="306.8" y="655.8" width="12.1" height="21.92" fill="#fff"/>
<rect x="308.4" y="657.4" width="8.9" height="18.72" fill="#DFA53A"/>
<rect x="319.46" y="655.8" width="12.1" height="25" fill="#fff"/>
<rect x="321.06" y="657.4" width="8.9" height="21.8" fill="#DFA53A"/>
<rect x="332.11" y="655.8" width="12.1" height="28.34" fill="#fff"/>
<rect x="333.71" y="657.4" width="8.9" height="25.14" fill="#DFA53A"/>
<rect x="344.77" y="655.8" width="12.1" height="31.16" fill="#fff"/>
<rect x="346.37" y="657.4" width="8.9" height="27.96" fill="#DFA53A"/>
<rect x="357.42" y="655.8" width="12.1" height="31.16" fill="#fff"/>
<rect x="359.02" y="657.4" width="8.9" height="27.96" fill="#DFA53A"/>
<rect x="370.08" y="655.8" width="12.1" height="32.18" fill="#fff"/>
<rect x="371.68" y="657.4" width="8.9" height="28.98" fill="#DFA53A"/>
<rect x="382.73" y="655.8" width="12.1" height="36.03" fill="#fff"/>
<rect x="384.33" y="657.4" width="8.9" height="32.83" fill="#DFA53A"/>
<rect x="395.38" y="655.8" width="12.1" height="39.37" fill="#fff"/>
<rect x="396.98" y="657.4" width="8.9" height="36.17" fill="#DFA53A"/>
<rect x="408.04" y="655.8" width="12.1" height="40.39" fill="#fff"/>
<rect x="409.64" y="657.4" width="8.9" height="37.19" fill="#DFA53A"/>
<rect x="420.69" y="655.8" width="12.1" height="41.68" fill="#fff"/>
<rect x="422.29" y="657.4" width="8.9" height="38.48" fill="#DFA53A"/>
<rect x="433.35" y="655.8" width="12.1" height="43.21" fill="#fff"/>
<rect x="434.95" y="657.4" width="8.9" height="40.01" fill="#DFA53A"/>
<rect x="446" y="655.8" width="12.1" height="45.78" fill="#fff"/>
<rect x="447.6" y="657.4" width="8.9" height="42.58" fill="#DFA53A"/>
<rect x="458.66" y="655.8" width="12.1" height="46.55" fill="#fff"/>
<rect x="460.26" y="657.4" width="8.9" height="43.35" fill="#DFA53A"/>
<rect x="471.31" y="655.8" width="12.1" height="50.14" fill="#fff"/>
<rect x="472.91" y="657.4" width="8.9" height="46.94" fill="#E03336"/>
<rect x="483.96" y="655.8" width="12.1" height="60.4" fill="#fff"/>
<rect x="485.56" y="657.4" width="8.9" height="57.2" fill="#DFA53A"/>
<rect x="496.62" y="655.8" width="12.1" height="61.43" fill="#fff"/>
<rect x="498.22" y="657.4" width="8.9" height="58.23" fill="#DFA53A"/>
<rect x="509.27" y="655.8" width="12.1" height="61.43" fill="#fff"/>
<rect x="510.87" y="657.4" width="8.9" height="58.23" fill="#DFA53A"/>
<rect x="521.93" y="655.8" width="12.1" height="62.45" fill="#fff"/>
<rect x="523.53" y="657.4" width="8.9" height="59.25" fill="#DFA53A"/>
<rect x="534.58" y="655.8" width="12.1" height="64.76" fill="#fff"/>
<rect x="536.18" y="657.4" width="8.9" height="61.56" fill="#DFA53A"/>
<rect x="547.24" y="655.8" width="12.1" height="64.76" fill="#fff"/>
<rect x="548.84" y="657.4" width="8.9" height="61.56" fill="#E03336"/>
<rect x="559.89" y="655.8" width="12.1" height="66.04" fill="#fff"/>
<rect x="561.49" y="657.4" width="8.9" height="62.84" fill="#DFA53A"/>
<rect x="572.55" y="655.8" width="12.1" height="67.33" fill="#fff"/>
<rect x="574.15" y="657.4" width="8.9" height="64.12" fill="#DFA53A"/>
<rect x="585.2" y="655.8" width="12.1" height="68.61" fill="#fff"/>
<rect x="586.8" y="657.4" width="8.9" height="65.41" fill="#DFA53A"/>
<rect x="597.85" y="655.8" width="12.1" height="73.22" fill="#fff"/>
<rect x="599.45" y="657.4" width="8.9" height="70.02" fill="#DFA53A"/>
<rect x="610.51" y="655.8" width="12.1" height="78.35" fill="#fff"/>
<rect x="612.11" y="657.4" width="8.9" height="75.15" fill="#DFA53A"/>
<rect x="623.16" y="655.8" width="12.1" height="79.12" fill="#fff"/>
<rect x="624.76" y="657.4" width="8.9" height="75.92" fill="#DFA53A"/>
<rect x="635.82" y="655.8" width="12.1" height="79.12" fill="#fff"/>
<rect x="637.42" y="657.4" width="8.9" height="75.92" fill="#DFA53A"/>
<rect x="648.47" y="655.8" width="12.1" height="79.12" fill="#fff"/>
<rect x="650.07" y="657.4" width="8.9" height="75.92" fill="#DFA53A"/>
<rect x="661.13" y="655.8" width="12.1" height="79.12" fill="#fff"/>
<rect x="662.73" y="657.4" width="8.9" height="75.92" fill="#29802B"/>
<rect x="673.78" y="655.8" width="12.1" height="80.66" fill="#fff"/>
<rect x="675.38" y="657.4" width="8.9" height="77.46" fill="#DFA53A"/>
<rect x="686.43" y="655.8" width="12.1" height="80.66" fill="#fff"/>
<rect x="688.03" y="657.4" width="8.9" height="77.46" fill="#DFA53A"/>
<rect x="699.09" y="655.8" width="12.1" height="85.54" fill="#fff"/>
<rect x="700.69" y="657.4" width="8.9" height="82.34" fill="#DFA53A"/>
<rect x="711.74" y="655.8" width="12.1" height="86.56" fill="#fff"/>
<rect x="713.34" y="657.4" width="8.9" height="83.36" fill="#29802B"/>
<rect x="724.4" y="655.8" width="12.1" height="91.44" fill="#fff"/>
<rect x="726" y="657.4" width="8.9" height="88.24" fill="#DFA53A"/>
<rect x="737.05" y="655.8" width="12.1" height="94" fill="#fff"/>
<rect x="738.65" y="657.4" width="8.9" height="90.8" fill="#DFA53A"/>
<rect x="749.71" y="655.8" width="12.1" height="95.28" fill="#fff"/>
<rect x="751.31" y="657.4" width="8.9" height="92.08" fill="#29802B"/>
<rect x="762.36" y="655.8" width="12.1" height="97.08" fill="#fff"/>
<rect x="763.96" y="657.4" width="8.9" height="93.88" fill="#29802B"/>
<rect x="775.01" y="655.8" width="12.1" height="98.62" fill="#fff"/>
<rect x="776.61" y="657.4" width="8.9" height="95.42" fill="#29802B"/>
<rect x="787.67" y="655.8" width="12.1" height="99.9" fill="#fff"/>
<rect x="789.27" y="657.4" width="8.9" height="96.7" fill="#DFA53A"/>
<rect x="800.32" y="655.8" width="12.1" height="99.9" fill="#fff"/>
<rect x="801.92" y="657.4" width="8.9" height="96.7" fill="#29802B"/>
<rect x="812.98" y="655.8" width="12.1" height="99.9" fill="#fff"/>
<rect x="814.58" y="657.4" width="8.9" height="96.7" fill="#DFA53A"/>
<rect x="825.63" y="655.8" width="12.1" height="99.9" fill="#fff"/>
<rect x="827.23" y="657.4" width="8.9" height="96.7" fill="#DFA53A"/>
<rect x="838.29" y="655.8" width="12.1" height="100.41" fill="#fff"/>
<rect x="839.89" y="657.4" width="8.9" height="97.21" fill="#DFA53A"/>
<rect x="850.94" y="655.8" width="12.1" height="102.98" fill="#fff"/>
<rect x="852.54" y="657.4" width="8.9" height="99.78" fill="#29802B"/>
<rect x="863.59" y="655.8" width="12.1" height="102.98" fill="#fff"/>
<rect x="865.19" y="657.4" width="8.9" height="99.78" fill="#29802B"/>
<rect x="876.25" y="655.8" width="12.1" height="104.26" fill="#fff"/>
<rect x="877.85" y="657.4" width="8.9" height="101.06" fill="#DFA53A"/>
<rect x="888.9" y="655.8" width="12.1" height="106.83" fill="#fff"/>
<rect x="890.5" y="657.4" width="8.9" height="103.63" fill="#DFA53A"/>
<rect x="901.56" y="655.8" width="12.1" height="108.88" fill="#fff"/>
<rect x="903.16" y="657.4" width="8.9" height="105.68" fill="#29802B"/>
<rect x="914.21" y="655.8" width="12.1" height="110.67" fill="#fff"/>
<rect x="915.81" y="657.4" width="8.9" height="107.47" fill="#29802B"/>
<rect x="926.87" y="655.8" width="12.1" height="118.88" fill="#fff"/>
<rect x="928.47" y="657.4" width="8.9" height="115.68" fill="#29802B"/>
<rect x="939.52" y="655.8" width="12.1" height="120.16" fill="#fff"/>
<rect x="941.12" y="657.4" width="8.9" height="116.96" fill="#D4D9D3"/>
<rect x="952.17" y="655.8" width="12.1" height="120.16" fill="#fff"/>
<rect x="953.77" y="657.4" width="8.9" height="116.96" fill="#29802B"/>
<rect x="964.83" y="655.8" width="12.1" height="123.5" fill="#fff"/>
<rect x="966.43" y="657.4" width="8.9" height="120.3" fill="#29802B"/>
<rect x="977.48" y="655.8" width="12.1" height="124.52" fill="#fff"/>
<rect x="979.08" y="657.4" width="8.9" height="121.32" fill="#29802B"/>
<rect x="990.14" y="655.8" width="12.1" height="124.52" fill="#fff"/>
<rect x="991.74" y="657.4" width="8.9" height="121.32" fill="#29802B"/>
<rect x="1002.79" y="655.8" width="12.1" height="125.55" fill="#fff"/>
<rect x="1004.39" y="657.4" width="8.9" height="122.35" fill="#29802B"/>
<rect x="1015.45" y="655.8" width="12.1" height="129.65" fill="#fff"/>
<rect x="1017.05" y="657.4" width="8.9" height="126.45" fill="#29802B"/>
<rect x="1028.1" y="655.8" width="12.1" height="129.65" fill="#fff"/>
<rect x="1029.7" y="657.4" width="8.9" height="126.45" fill="#29802B"/>
<rect x="1040.75" y="655.8" width="12.1" height="129.65" fill="#fff"/>
<rect x="1042.35" y="657.4" width="8.9" height="126.45" fill="#29802B"/>
<rect x="1053.41" y="655.8" width="12.1" height="135.81" fill="#fff"/>
<rect x="1055.01" y="657.4" width="8.9" height="132.61" fill="#29802B"/>
<rect x="1066.06" y="655.8" width="12.1" height="136.84" fill="#fff"/>
<rect x="1067.66" y="657.4" width="8.9" height="133.64" fill="#DFA53A"/>
<rect x="1078.72" y="655.8" width="12.1" height="138.12" fill="#fff"/>
<rect x="1080.32" y="657.4" width="8.9" height="134.92" fill="#29802B"/>
<rect x="1091.37" y="655.8" width="12.1" height="138.12" fill="#fff"/>
<rect x="1092.97" y="657.4" width="8.9" height="134.92" fill="#29802B"/>
<rect x="1104.03" y="655.8" width="12.1" height="139.4" fill="#fff"/>
<rect x="1105.63" y="657.4" width="8.9" height="136.2" fill="#29802B"/>
<rect x="1116.68" y="655.8" width="12.1" height="139.4" fill="#fff"/>
<rect x="1118.28" y="657.4" width="8.9" height="136.2" fill="#29802B"/>
<rect x="1129.33" y="655.8" width="12.1" height="139.4" fill="#fff"/>
<rect x="1130.93" y="657.4" width="8.9" height="136.2" fill="#29802B"/>
<rect x="1141.99" y="655.8" width="12.1" height="142.74" fill="#fff"/>
<rect x="1143.59" y="657.4" width="8.9" height="139.54" fill="#29802B"/>
<rect x="1154.64" y="655.8" width="12.1" height="145.56" fill="#fff"/>
<rect x="1156.24" y="657.4" width="8.9" height="142.36" fill="#29802B"/>
<rect x="1167.3" y="655.8" width="12.1" height="145.56" fill="#fff"/>
<rect x="1168.9" y="657.4" width="8.9" height="142.36" fill="#29802B"/>
<rect x="1179.95" y="655.8" width="12.1" height="147.61" fill="#fff"/>
<rect x="1181.55" y="657.4" width="8.9" height="144.41" fill="#29802B"/>
<rect x="1192.61" y="655.8" width="12.1" height="147.61" fill="#fff"/>
<rect x="1194.21" y="657.4" width="8.9" height="144.41" fill="#29802B"/>
<rect x="1205.26" y="655.8" width="12.1" height="149.92" fill="#fff"/>
<rect x="1206.86" y="657.4" width="8.9" height="146.72" fill="#29802B"/>
<rect x="1217.91" y="655.8" width="12.1" height="156.07" fill="#fff"/>
<rect x="1219.51" y="657.4" width="8.9" height="152.87" fill="#29802B"/>
<rect x="1230.57" y="655.8" width="12.1" height="156.07" fill="#fff"/>
<rect x="1232.17" y="657.4" width="8.9" height="152.87" fill="#29802B"/>
<rect x="1243.22" y="655.8" width="12.1" height="157.36" fill="#fff"/>
<rect x="1244.82" y="657.4" width="8.9" height="154.16" fill="#29802B"/>
<rect x="1255.88" y="655.8" width="12.1" height="157.36" fill="#fff"/>
<rect x="1257.48" y="657.4" width="8.9" height="154.16" fill="#29802B"/>
<rect x="1268.53" y="655.8" width="12.1" height="158.64" fill="#fff"/>
<rect x="1270.13" y="657.4" width="8.9" height="155.44" fill="#29802B"/>
<rect x="1281.19" y="655.8" width="12.1" height="158.64" fill="#fff"/>
<rect x="1282.79" y="657.4" width="8.9" height="155.44" fill="#29802B"/>
<rect x="1293.84" y="655.8" width="12.1" height="161.46" fill="#fff"/>
<rect x="1295.44" y="657.4" width="8.9" height="158.26" fill="#DFA53A"/>
<rect x="1306.49" y="655.8" width="12.1" height="163.51" fill="#fff"/>
<rect x="1308.09" y="657.4" width="8.9" height="160.31" fill="#29802B"/>
<rect x="1319.15" y="655.8" width="12.1" height="164.54" fill="#fff"/>
<rect x="1320.75" y="657.4" width="8.9" height="161.34" fill="#DFA53A"/>
<rect x="1331.8" y="655.8" width="12.1" height="165.31" fill="#fff"/>
<rect x="1333.4" y="657.4" width="8.9" height="162.11" fill="#29802B"/>
<rect x="1344.46" y="655.8" width="12.1" height="165.31" fill="#fff"/>
<rect x="1346.06" y="657.4" width="8.9" height="162.11" fill="#29802B"/>
<rect x="1357.11" y="655.8" width="12.1" height="166.33" fill="#fff"/>
<rect x="1358.71" y="657.4" width="8.9" height="163.13" fill="#DFA53A"/>
<rect x="1369.77" y="655.8" width="12.1" height="170.18" fill="#fff"/>
<rect x="1371.37" y="657.4" width="8.9" height="166.98" fill="#29802B"/>
<rect x="1382.42" y="655.8" width="12.1" height="173.77" fill="#fff"/>
<rect x="1384.02" y="657.4" width="8.9" height="170.57" fill="#29802B"/>
<rect x="1395.07" y="655.8" width="12.1" height="173.77" fill="#fff"/>
<rect x="1396.67" y="657.4" width="8.9" height="170.57" fill="#29802B"/>
<rect x="1407.73" y="655.8" width="12.1" height="176.34" fill="#fff"/>
<rect x="1409.33" y="657.4" width="8.9" height="173.14" fill="#29802B"/>
<rect x="1420.38" y="655.8" width="12.1" height="177.36" fill="#fff"/>
<rect x="1421.98" y="657.4" width="8.9" height="174.16" fill="#29802B"/>
<rect x="1433.04" y="655.8" width="12.1" height="179.16" fill="#fff"/>
<rect x="1434.64" y="657.4" width="8.9" height="175.96" fill="#29802B"/>
<rect x="1445.69" y="655.8" width="12.1" height="180.19" fill="#fff"/>
<rect x="1447.29" y="657.4" width="8.9" height="176.99" fill="#29802B"/>
<rect x="1458.35" y="655.8" width="12.1" height="183.52" fill="#fff"/>
<rect x="1459.95" y="657.4" width="8.9" height="180.32" fill="#29802B"/>
<rect x="1471" y="655.8" width="12.1" height="183.52" fill="#fff"/>
<rect x="1472.6" y="657.4" width="8.9" height="180.32" fill="#29802B"/>
<rect x="1483.65" y="655.8" width="12.1" height="185.57" fill="#fff"/>
<rect x="1485.25" y="657.4" width="8.9" height="182.37" fill="#29802B"/>
<rect x="1496.31" y="655.8" width="12.1" height="185.57" fill="#fff"/>
<rect x="1497.91" y="657.4" width="8.9" height="182.37" fill="#29802B"/>
<rect x="1508.96" y="655.8" width="12.1" height="189.42" fill="#fff"/>
<rect x="1510.56" y="657.4" width="8.9" height="186.22" fill="#29802B"/>
<rect x="1521.62" y="655.8" width="12.1" height="191.98" fill="#fff"/>
<rect x="1523.22" y="657.4" width="8.9" height="188.78" fill="#29802B"/>
<rect x="1534.27" y="655.8" width="12.1" height="198.14" fill="#fff"/>
<rect x="1535.87" y="657.4" width="8.9" height="194.94" fill="#5F89B5"/>
<rect x="1546.93" y="655.8" width="12.1" height="200.45" fill="#fff"/>
<rect x="1548.53" y="657.4" width="8.9" height="197.25" fill="#29802B"/>
<rect x="1559.58" y="655.8" width="12.1" height="202.76" fill="#fff"/>
<rect x="1561.18" y="657.4" width="8.9" height="199.56" fill="#29802B"/>
<rect x="1572.24" y="655.8" width="12.1" height="204.55" fill="#fff"/>
<rect x="1573.84" y="657.4" width="8.9" height="201.35" fill="#29802B"/>
<rect x="1584.89" y="655.8" width="12.1" height="207.12" fill="#fff"/>
<rect x="1586.49" y="657.4" width="8.9" height="203.92" fill="#5F89B5"/>
<rect x="1597.54" y="655.8" width="12.1" height="210.45" fill="#fff"/>
<rect x="1599.14" y="657.4" width="8.9" height="207.25" fill="#29802B"/>
<rect x="1610.2" y="655.8" width="12.1" height="211.73" fill="#fff"/>
<rect x="1611.8" y="657.4" width="8.9" height="208.53" fill="#29802B"/>
<rect x="1622.85" y="655.8" width="12.1" height="213.27" fill="#fff"/>
<rect x="1624.45" y="657.4" width="8.9" height="210.07" fill="#29802B"/>
<rect x="1635.51" y="655.8" width="12.1" height="215.58" fill="#fff"/>
<rect x="1637.11" y="657.4" width="8.9" height="212.38" fill="#29802B"/>
<rect x="1648.16" y="655.8" width="12.1" height="221.74" fill="#fff"/>
<rect x="1649.76" y="657.4" width="8.9" height="218.54" fill="#29802B"/>
<rect x="1660.82" y="655.8" width="12.1" height="228.66" fill="#fff"/>
<rect x="1662.42" y="657.4" width="8.9" height="225.46" fill="#5F89B5"/>
<rect x="1673.47" y="655.8" width="12.1" height="237.13" fill="#fff"/>
<rect x="1675.07" y="657.4" width="8.9" height="233.93" fill="#29802B"/>
<rect x="1686.12" y="655.8" width="12.1" height="259.7" fill="#fff"/>
<rect x="1687.72" y="657.4" width="8.9" height="256.5" fill="#5F89B5"/>
<rect x="1698.78" y="655.8" width="12.1" height="259.7" fill="#fff"/>
<rect x="1700.38" y="657.4" width="8.9" height="256.5" fill="#5F89B5"/>
<rect x="1711.43" y="655.8" width="12.1" height="259.7" fill="#fff"/>
<rect x="1713.03" y="657.4" width="8.9" height="256.5" fill="#29802B"/>
<rect x="1724.09" y="655.8" width="12.1" height="259.7" fill="#fff"/>
<rect x="1725.69" y="657.4" width="8.9" height="256.5" fill="#5F89B5"/>
<rect x="1736.74" y="655.8" width="12.1" height="259.7" fill="#fff"/>
<rect x="1738.34" y="657.4" width="8.9" height="256.5" fill="#29802B"/>
<rect x="1749.4" y="655.8" width="12.1" height="259.7" fill="#fff"/>
<rect x="1751" y="657.4" width="8.9" height="256.5" fill="#DFA53A"/>
<rect x="1762.05" y="655.8" width="12.1" height="259.7" fill="#fff"/>
<rect x="1763.65" y="657.4" width="8.9" height="256.5" fill="#29802B"/>
<rect x="1774.7" y="655.8" width="12.1" height="259.7" fill="#fff"/>
<rect x="1776.3" y="657.4" width="8.9" height="256.5" fill="#29802B"/>
<rect x="1787.36" y="655.8" width="12.1" height="259.7" fill="#fff"/>
<rect x="1788.96" y="657.4" width="8.9" height="256.5" fill="#5F89B5"/>
<rect x="1800.01" y="655.8" width="12.1" height="259.7" fill="#fff"/>
<rect x="1801.61" y="657.4" width="8.9" height="256.5" fill="#29802B"/>
<line x1="78.5" y1="913.6" x2="1989.3" y2="913.6" stroke="#000" stroke-width="1.4" opacity="0.07"/>
<line x1="78.5" y1="862.7" x2="1989.3" y2="862.7" stroke="#000" stroke-width="1.4" opacity="0.07"/>
<line x1="78.5" y1="812" x2="1989.3" y2="812" stroke="#000" stroke-width="1.4" opacity="0.07"/>
<line x1="78.5" y1="760.2" x2="1989.3" y2="760.2" stroke="#000" stroke-width="1.4" opacity="0.07"/>
<line x1="78.5" y1="709.2" x2="1989.3" y2="709.2" stroke="#000" stroke-width="1.4" opacity="0.07"/>
<line x1="78.5" y1="657.5" x2="1989.3" y2="657.5" stroke="#000" stroke-width="1.4" opacity="0.07"/>
<line x1="78.5" y1="606.2" x2="1989.3" y2="606.2" stroke="#000" stroke-width="1.4" opacity="0.07"/>
<line x1="78.5" y1="554.4" x2="1989.3" y2="554.4" stroke="#000" stroke-width="1.4" opacity="0.07"/>
<line x1="78.5" y1="503.7" x2="1989.3" y2="503.7" stroke="#000" stroke-width="1.4" opacity="0.07"/>
<rect x="78.5" y="501.2" width="1910.8" height="432.8" fill="none" stroke="#cfcfcf" stroke-width="1.3"/>
</g>
<text transform="translate(74.3,917.6) scale(1.02,1)" font-size="15.3" text-anchor="end" fill="#262626" stroke="#262626" stroke-width="0.35">−100</text>
<text transform="translate(74.3,866.7) scale(1.02,1)" font-size="15.3" text-anchor="end" fill="#262626" stroke="#262626" stroke-width="0.35">−80</text>
<text transform="translate(74.3,816) scale(1.02,1)" font-size="15.3" text-anchor="end" fill="#262626" stroke="#262626" stroke-width="0.35">−60</text>
<text transform="translate(74.3,764.2) scale(1.02,1)" font-size="15.3" text-anchor="end" fill="#262626" stroke="#262626" stroke-width="0.35">−40</text>
<text transform="translate(74.3,713.2) scale(1.02,1)" font-size="15.3" text-anchor="end" fill="#262626" stroke="#262626" stroke-width="0.35">−20</text>
<text transform="translate(74.3,661.5) scale(1.02,1)" font-size="15.3" text-anchor="end" fill="#262626" stroke="#262626" stroke-width="0.35">0</text>
<text transform="translate(74.3,610.2) scale(1.02,1)" font-size="15.3" text-anchor="end" fill="#262626" stroke="#262626" stroke-width="0.35">20</text>
<text transform="translate(74.3,558.4) scale(1.02,1)" font-size="15.3" text-anchor="end" fill="#262626" stroke="#262626" stroke-width="0.35">40</text>
<text transform="translate(74.3,507.7) scale(1.02,1)" font-size="15.3" text-anchor="end" fill="#262626" stroke="#262626" stroke-width="0.35">60</text>
<text transform="translate(31.5,717) rotate(-90)" font-size="16.5" text-anchor="middle" fill="#262626" stroke="#262626" stroke-width="0.35">Best % tumor size change</text>
<rect x="87.2" y="779.7" width="139.6" height="145.4" rx="3.5" fill="#fff" fill-opacity="0.8" stroke="#ccc" stroke-opacity="0.8" stroke-width="1.3"/>
<text transform="translate(157,797.6) scale(1.07,1)" font-size="15.4" text-anchor="middle" fill="#262626" stroke="#262626" stroke-width="0.35">Response Status</text>
<rect x="122.7" y="810.5" width="31.6" height="10.4" fill="#5F89B5"/>
<text transform="translate(167.5,822.4) scale(1.04,1)" font-size="16.5" fill="#262626" stroke="#262626" stroke-width="0.35">CR</text>
<rect x="122.7" y="834" width="31.6" height="10.4" fill="#29802B"/>
<text transform="translate(167.5,845.9) scale(1.04,1)" font-size="16.5" fill="#262626" stroke="#262626" stroke-width="0.35">PR</text>
<rect x="122.7" y="857.5" width="31.6" height="10.4" fill="#DFA53A"/>
<text transform="translate(167.5,869.4) scale(1.04,1)" font-size="16.5" fill="#262626" stroke="#262626" stroke-width="0.35">SD</text>
<rect x="122.7" y="881" width="31.6" height="10.4" fill="#E03336"/>
<text transform="translate(167.5,892.9) scale(1.04,1)" font-size="16.5" fill="#262626" stroke="#262626" stroke-width="0.35">PD</text>
<rect x="122.7" y="904.5" width="31.6" height="10.4" fill="#D4D9D3"/>
<text transform="translate(167.5,916.4) scale(1.04,1)" font-size="16.5" fill="#262626" stroke="#262626" stroke-width="0.35">NE</text>
<text transform="translate(8,40.8) scale(0.956,1)" font-size="52.2" font-weight="bold" fill="#000">A</text>
<rect x="95.8" y="1082" width="657.7" height="664" fill="#fff"/>
<line x1="95.8" y1="1637.88" x2="753.5" y2="1637.88" stroke="#E9E9E9" stroke-width="1.6"/>
<line x1="95.8" y1="1441.83" x2="753.5" y2="1441.83" stroke="#E9E9E9" stroke-width="1.6"/>
<line x1="95.8" y1="1245.78" x2="753.5" y2="1245.78" stroke="#E9E9E9" stroke-width="1.6"/>
<line x1="95.8" y1="1735.9" x2="753.5" y2="1735.9" stroke="#E9E9E9" stroke-width="2.6"/>
<line x1="95.8" y1="1539.85" x2="753.5" y2="1539.85" stroke="#E9E9E9" stroke-width="2.6"/>
<line x1="95.8" y1="1343.8" x2="753.5" y2="1343.8" stroke="#E9E9E9" stroke-width="2.6"/>
<line x1="95.8" y1="1147.75" x2="753.5" y2="1147.75" stroke="#E9E9E9" stroke-width="2.6"/>
<line x1="170.8" y1="1082" x2="170.8" y2="1746" stroke="#E9E9E9" stroke-width="2.3"/>
<line x1="297.6" y1="1082" x2="297.6" y2="1746" stroke="#E9E9E9" stroke-width="2.3"/>
<line x1="424.4" y1="1082" x2="424.4" y2="1746" stroke="#E9E9E9" stroke-width="2.3"/>
<line x1="551.2" y1="1082" x2="551.2" y2="1746" stroke="#E9E9E9" stroke-width="2.3"/>
<line x1="678" y1="1082" x2="678" y2="1746" stroke="#E9E9E9" stroke-width="2.3"/>
<rect x="127.5" y="1116" width="209.5" height="141" fill="#fff"/>
<line x1="170.8" y1="1690.4" x2="170.8" y2="1699.5" stroke="#1c1c1c" stroke-width="1.9"/>
<line x1="170.8" y1="1712.8" x2="170.8" y2="1717" stroke="#1c1c1c" stroke-width="1.9"/>
<rect x="122.5" y="1699.5" width="96.5" height="13.3" fill="#fff" stroke="none"/>
<line x1="121.45" y1="1699.5" x2="220.05" y2="1699.5" stroke="#2e2e2e" stroke-width="2.8"/>
<line x1="121.45" y1="1712.8" x2="220.05" y2="1712.8" stroke="#2e2e2e" stroke-width="2.8"/>
<line x1="122.5" y1="1699.5" x2="122.5" y2="1712.8" stroke="#2e2e2e" stroke-width="2.1"/>
<line x1="219" y1="1699.5" x2="219" y2="1712.8" stroke="#2e2e2e" stroke-width="2.1"/>
<line x1="122.5" y1="1709.7" x2="219" y2="1709.7" stroke="#2e2e2e" stroke-width="5"/>
<line x1="297.5" y1="1566.3" x2="297.5" y2="1649.7" stroke="#1c1c1c" stroke-width="1.9"/>
<line x1="297.5" y1="1696" x2="297.5" y2="1712.1" stroke="#1c1c1c" stroke-width="1.9"/>
<rect x="249.8" y="1649.7" width="95.4" height="46.3" fill="#fff" stroke="none"/>
<line x1="248.75" y1="1649.7" x2="346.25" y2="1649.7" stroke="#2e2e2e" stroke-width="2.8"/>
<line x1="248.75" y1="1696" x2="346.25" y2="1696" stroke="#2e2e2e" stroke-width="2.8"/>
<line x1="249.8" y1="1649.7" x2="249.8" y2="1696" stroke="#2e2e2e" stroke-width="2.1"/>
<line x1="345.2" y1="1649.7" x2="345.2" y2="1696" stroke="#2e2e2e" stroke-width="2.1"/>
<line x1="249.8" y1="1678.8" x2="345.2" y2="1678.8" stroke="#2e2e2e" stroke-width="5"/>
<line x1="424.3" y1="1520.3" x2="424.3" y2="1584.4" stroke="#1c1c1c" stroke-width="1.9"/>
<line x1="424.3" y1="1661.5" x2="424.3" y2="1685.5" stroke="#1c1c1c" stroke-width="1.9"/>
<rect x="376.7" y="1584.4" width="95.1" height="77.1" fill="#fff" stroke="none"/>
<line x1="375.65" y1="1584.4" x2="472.85" y2="1584.4" stroke="#2e2e2e" stroke-width="2.8"/>
<line x1="375.65" y1="1661.5" x2="472.85" y2="1661.5" stroke="#2e2e2e" stroke-width="2.8"/>
<line x1="376.7" y1="1584.4" x2="376.7" y2="1661.5" stroke="#2e2e2e" stroke-width="2.1"/>
<line x1="471.8" y1="1584.4" x2="471.8" y2="1661.5" stroke="#2e2e2e" stroke-width="2.1"/>
<line x1="376.7" y1="1635.3" x2="471.8" y2="1635.3" stroke="#2e2e2e" stroke-width="5"/>
<line x1="551.2" y1="1488" x2="551.2" y2="1578.9" stroke="#1c1c1c" stroke-width="1.9"/>
<line x1="551.2" y1="1661.6" x2="551.2" y2="1681" stroke="#1c1c1c" stroke-width="1.9"/>
<rect x="503.3" y="1578.9" width="95.8" height="82.7" fill="#fff" stroke="none"/>
<line x1="502.25" y1="1578.9" x2="600.15" y2="1578.9" stroke="#2e2e2e" stroke-width="2.8"/>
<line x1="502.25" y1="1661.6" x2="600.15" y2="1661.6" stroke="#2e2e2e" stroke-width="2.8"/>
<line x1="503.3" y1="1578.9" x2="503.3" y2="1661.6" stroke="#2e2e2e" stroke-width="2.1"/>
<line x1="599.1" y1="1578.9" x2="599.1" y2="1661.6" stroke="#2e2e2e" stroke-width="2.1"/>
<line x1="503.3" y1="1624.3" x2="599.1" y2="1624.3" stroke="#2e2e2e" stroke-width="5"/>
<line x1="678.2" y1="1110.8" x2="678.2" y2="1296" stroke="#1c1c1c" stroke-width="1.9"/>
<line x1="678.2" y1="1500.3" x2="678.2" y2="1685.3" stroke="#1c1c1c" stroke-width="1.9"/>
<rect x="630.7" y="1296" width="95.3" height="204.3" fill="#fff" stroke="none"/>
<line x1="629.65" y1="1296" x2="727.05" y2="1296" stroke="#2e2e2e" stroke-width="2.8"/>
<line x1="629.65" y1="1500.3" x2="727.05" y2="1500.3" stroke="#2e2e2e" stroke-width="2.8"/>
<line x1="630.7" y1="1296" x2="630.7" y2="1500.3" stroke="#2e2e2e" stroke-width="2.1"/>
<line x1="726" y1="1296" x2="726" y2="1500.3" stroke="#2e2e2e" stroke-width="2.1"/>
<line x1="630.7" y1="1389.3" x2="726" y2="1389.3" stroke="#2e2e2e" stroke-width="5"/>
<ellipse cx="170.6" cy="1690.4" rx="4.1" ry="5.5" fill="#377EB8"/>
<ellipse cx="163.2" cy="1698.8" rx="4.1" ry="5.5" fill="#377EB8"/>
<ellipse cx="170.6" cy="1700.2" rx="4.1" ry="5.5" fill="#E41A1C"/>
<ellipse cx="178.3" cy="1699.5" rx="4.1" ry="5.5" fill="#E41A1C"/>
<ellipse cx="163.6" cy="1712.1" rx="4.1" ry="5.5" fill="#E41A1C"/>
<ellipse cx="171.3" cy="1711.4" rx="4.1" ry="5.5" fill="#377EB8"/>
<ellipse cx="177.6" cy="1713.5" rx="4.1" ry="5.5" fill="#377EB8"/>
<ellipse cx="184.4" cy="1710.7" rx="4.1" ry="5.5" fill="#E41A1C"/>
<ellipse cx="170.6" cy="1717" rx="4.1" ry="5.5" fill="#377EB8"/>
<ellipse cx="301" cy="1566.3" rx="4.1" ry="5.5" fill="#377EB8"/>
<ellipse cx="297.5" cy="1574" rx="4.1" ry="5.5" fill="#377EB8"/>
<ellipse cx="296.4" cy="1597.6" rx="4.1" ry="5.5" fill="#E41A1C"/>
<ellipse cx="303.4" cy="1601" rx="4.1" ry="5.5" fill="#377EB8"/>
<ellipse cx="297.2" cy="1606.3" rx="4.1" ry="5.5" fill="#377EB8"/>
<ellipse cx="301" cy="1627.3" rx="4.1" ry="5.5" fill="#377EB8"/>
<ellipse cx="297.2" cy="1633.6" rx="4.1" ry="5.5" fill="#E41A1C"/>
<ellipse cx="290.5" cy="1642" rx="4.1" ry="5.5" fill="#377EB8"/>
<ellipse cx="304.5" cy="1643" rx="4.1" ry="5.5" fill="#E41A1C"/>
<ellipse cx="297.5" cy="1646.2" rx="4.1" ry="5.5" fill="#377EB8"/>
<ellipse cx="302.4" cy="1656" rx="4.1" ry="5.5" fill="#E41A1C"/>
<ellipse cx="297.2" cy="1661.7" rx="4.1" ry="5.5" fill="#377EB8"/>
<ellipse cx="273.7" cy="1668" rx="4.1" ry="5.5" fill="#377EB8"/>
<ellipse cx="281.4" cy="1668" rx="4.1" ry="5.5" fill="#377EB8"/>
<ellipse cx="288.8" cy="1670" rx="4.1" ry="5.5" fill="#377EB8"/>
<ellipse cx="296.4" cy="1671.5" rx="4.1" ry="5.5" fill="#E41A1C"/>
<ellipse cx="309.4" cy="1669.4" rx="4.1" ry="5.5" fill="#E41A1C"/>
<ellipse cx="317.1" cy="1668" rx="4.1" ry="5.5" fill="#E41A1C"/>
<ellipse cx="303.1" cy="1673.6" rx="4.1" ry="5.5" fill="#377EB8"/>
<ellipse cx="284.2" cy="1682.7" rx="4.1" ry="5.5" fill="#377EB8"/>
<ellipse cx="291.9" cy="1683.4" rx="4.1" ry="5.5" fill="#377EB8"/>
<ellipse cx="298.9" cy="1680.6" rx="4.1" ry="5.5" fill="#377EB8"/>
<ellipse cx="304.5" cy="1684.8" rx="4.1" ry="5.5" fill="#E41A1C"/>
<ellipse cx="311.5" cy="1684.1" rx="4.1" ry="5.5" fill="#E41A1C"/>
<ellipse cx="280.7" cy="1690.4" rx="4.1" ry="5.5" fill="#E41A1C"/>
<ellipse cx="297.5" cy="1689.7" rx="4.1" ry="5.5" fill="#E41A1C"/>
<ellipse cx="287" cy="1694.6" rx="4.1" ry="5.5" fill="#377EB8"/>
<ellipse cx="294" cy="1696" rx="4.1" ry="5.5" fill="#E41A1C"/>
<ellipse cx="301.7" cy="1695.3" rx="4.1" ry="5.5" fill="#377EB8"/>
<ellipse cx="308" cy="1693.9" rx="4.1" ry="5.5" fill="#377EB8"/>
<ellipse cx="270.2" cy="1701.6" rx="4.1" ry="5.5" fill="#377EB8"/>
<ellipse cx="318.5" cy="1701.6" rx="4.1" ry="5.5" fill="#377EB8"/>
<ellipse cx="276.5" cy="1706.5" rx="4.1" ry="5.5" fill="#377EB8"/>
<ellipse cx="284.2" cy="1707.2" rx="4.1" ry="5.5" fill="#377EB8"/>
<ellipse cx="291.2" cy="1707.2" rx="4.1" ry="5.5" fill="#377EB8"/>
<ellipse cx="297.5" cy="1705.8" rx="4.1" ry="5.5" fill="#377EB8"/>
<ellipse cx="304.5" cy="1709.3" rx="4.1" ry="5.5" fill="#E41A1C"/>
<ellipse cx="312.2" cy="1705.8" rx="4.1" ry="5.5" fill="#377EB8"/>
<ellipse cx="297.2" cy="1712.1" rx="4.1" ry="5.5" fill="#377EB8"/>
<ellipse cx="424.3" cy="1520" rx="4.1" ry="5.5" fill="#377EB8"/>
<ellipse cx="424.3" cy="1535.7" rx="4.1" ry="5.5" fill="#E41A1C"/>
<ellipse cx="424.3" cy="1571.5" rx="4.1" ry="5.5" fill="#E41A1C"/>
<ellipse cx="430.9" cy="1580.6" rx="4.1" ry="5.5" fill="#E41A1C"/>
<ellipse cx="424.3" cy="1584.4" rx="4.1" ry="5.5" fill="#E41A1C"/>
<ellipse cx="424.3" cy="1596.4" rx="4.1" ry="5.5" fill="#E41A1C"/>
<ellipse cx="424.3" cy="1617.5" rx="4.1" ry="5.5" fill="#377EB8"/>
<ellipse cx="416.8" cy="1633.9" rx="4.1" ry="5.5" fill="#377EB8"/>
<ellipse cx="424.3" cy="1635.3" rx="4.1" ry="5.5" fill="#377EB8"/>
<ellipse cx="431.8" cy="1635" rx="4.1" ry="5.5" fill="#E41A1C"/>
<ellipse cx="430.9" cy="1650.7" rx="4.1" ry="5.5" fill="#E41A1C"/>
<ellipse cx="423.8" cy="1653.5" rx="4.1" ry="5.5" fill="#377EB8"/>
<ellipse cx="424.3" cy="1661.9" rx="4.1" ry="5.5" fill="#377EB8"/>
<ellipse cx="417.8" cy="1682" rx="4.1" ry="5.5" fill="#E41A1C"/>
<ellipse cx="437" cy="1679" rx="4.1" ry="5.5" fill="#E41A1C"/>
<ellipse cx="424.3" cy="1685.7" rx="4.1" ry="5.5" fill="#E41A1C"/>
<ellipse cx="431.4" cy="1685" rx="4.1" ry="5.5" fill="#377EB8"/>
<ellipse cx="551" cy="1488.5" rx="4.1" ry="5.5" fill="#E41A1C"/>
<ellipse cx="550.7" cy="1551.4" rx="4.1" ry="5.5" fill="#E41A1C"/>
<ellipse cx="558.5" cy="1551.4" rx="4.1" ry="5.5" fill="#377EB8"/>
<ellipse cx="551" cy="1579.2" rx="4.1" ry="5.5" fill="#377EB8"/>
<ellipse cx="558" cy="1606.5" rx="4.1" ry="5.5" fill="#377EB8"/>
<ellipse cx="550.7" cy="1610" rx="4.1" ry="5.5" fill="#E41A1C"/>
<ellipse cx="551" cy="1624.3" rx="4.1" ry="5.5" fill="#377EB8"/>
<ellipse cx="558" cy="1644.4" rx="4.1" ry="5.5" fill="#E41A1C"/>
<ellipse cx="550.7" cy="1647.6" rx="4.1" ry="5.5" fill="#E41A1C"/>
<ellipse cx="551" cy="1661.9" rx="4.1" ry="5.5" fill="#E41A1C"/>
<ellipse cx="550.7" cy="1670.7" rx="4.1" ry="5.5" fill="#E41A1C"/>
<ellipse cx="558.5" cy="1677.6" rx="4.1" ry="5.5" fill="#E41A1C"/>
<ellipse cx="550.7" cy="1680.1" rx="4.1" ry="5.5" fill="#377EB8"/>
<ellipse cx="678" cy="1110.8" rx="4.1" ry="5.5" fill="#E41A1C"/>
<ellipse cx="678" cy="1161.8" rx="4.1" ry="5.5" fill="#E41A1C"/>
<ellipse cx="678" cy="1201.6" rx="4.1" ry="5.5" fill="#E41A1C"/>
<ellipse cx="678" cy="1227.6" rx="4.1" ry="5.5" fill="#E41A1C"/>
<ellipse cx="670.9" cy="1237.6" rx="4.1" ry="5.5" fill="#E41A1C"/>
<ellipse cx="678.7" cy="1238.5" rx="4.1" ry="5.5" fill="#E41A1C"/>
<ellipse cx="678" cy="1246.3" rx="4.1" ry="5.5" fill="#E41A1C"/>
<ellipse cx="670.9" cy="1256.7" rx="4.1" ry="5.5" fill="#E41A1C"/>
<ellipse cx="678" cy="1260.1" rx="4.1" ry="5.5" fill="#377EB8"/>
<ellipse cx="685.6" cy="1259.3" rx="4.1" ry="5.5" fill="#E41A1C"/>
<ellipse cx="689.9" cy="1271.1" rx="4.1" ry="5.5" fill="#377EB8"/>
<ellipse cx="670.5" cy="1274.9" rx="4.1" ry="5.5" fill="#E41A1C"/>
<ellipse cx="678" cy="1276.6" rx="4.1" ry="5.5" fill="#377EB8"/>
<ellipse cx="685.6" cy="1277.5" rx="4.1" ry="5.5" fill="#E41A1C"/>
<ellipse cx="678" cy="1286.1" rx="4.1" ry="5.5" fill="#377EB8"/>
<ellipse cx="678" cy="1306" rx="4.1" ry="5.5" fill="#377EB8"/>
<ellipse cx="685.6" cy="1305.2" rx="4.1" ry="5.5" fill="#E41A1C"/>
<ellipse cx="683.3" cy="1314.7" rx="4.1" ry="5.5" fill="#E41A1C"/>
<ellipse cx="675.7" cy="1319" rx="4.1" ry="5.5" fill="#E41A1C"/>
<ellipse cx="682.1" cy="1323.4" rx="4.1" ry="5.5" fill="#E41A1C"/>
<ellipse cx="678" cy="1329.4" rx="4.1" ry="5.5" fill="#E41A1C"/>
<ellipse cx="678" cy="1344.2" rx="4.1" ry="5.5" fill="#377EB8"/>
<ellipse cx="685.1" cy="1343.3" rx="4.1" ry="5.5" fill="#E41A1C"/>
<ellipse cx="671.2" cy="1365.8" rx="4.1" ry="5.5" fill="#377EB8"/>
<ellipse cx="685.6" cy="1368.4" rx="4.1" ry="5.5" fill="#377EB8"/>
<ellipse cx="678" cy="1371" rx="4.1" ry="5.5" fill="#377EB8"/>
<ellipse cx="670" cy="1383.5" rx="4.1" ry="5.5" fill="#E41A1C"/>
<ellipse cx="678" cy="1384" rx="4.1" ry="5.5" fill="#E41A1C"/>
<ellipse cx="686.1" cy="1383.5" rx="4.1" ry="5.5" fill="#E41A1C"/>
<ellipse cx="684.4" cy="1391" rx="4.1" ry="5.5" fill="#377EB8"/>
<ellipse cx="678" cy="1393.5" rx="4.1" ry="5.5" fill="#E41A1C"/>
<ellipse cx="678" cy="1404.6" rx="4.1" ry="5.5" fill="#377EB8"/>
<ellipse cx="670.9" cy="1414.2" rx="4.1" ry="5.5" fill="#377EB8"/>
<ellipse cx="678" cy="1415.9" rx="4.1" ry="5.5" fill="#E41A1C"/>
<ellipse cx="685.6" cy="1415.4" rx="4.1" ry="5.5" fill="#E41A1C"/>
<ellipse cx="678" cy="1426.3" rx="4.1" ry="5.5" fill="#E41A1C"/>
<ellipse cx="678" cy="1435.8" rx="4.1" ry="5.5" fill="#377EB8"/>
<ellipse cx="678" cy="1457.1" rx="4.1" ry="5.5" fill="#377EB8"/>
<ellipse cx="685.1" cy="1456.1" rx="4.1" ry="5.5" fill="#E41A1C"/>
<ellipse cx="677.4" cy="1468.4" rx="4.1" ry="5.5" fill="#377EB8"/>
<ellipse cx="685.1" cy="1468.4" rx="4.1" ry="5.5" fill="#E41A1C"/>
<ellipse cx="678" cy="1490.4" rx="4.1" ry="5.5" fill="#377EB8"/>
<ellipse cx="685.4" cy="1489.2" rx="4.1" ry="5.5" fill="#377EB8"/>
<ellipse cx="677.4" cy="1501.3" rx="4.1" ry="5.5" fill="#E41A1C"/>
<ellipse cx="685.4" cy="1499.9" rx="4.1" ry="5.5" fill="#377EB8"/>
<ellipse cx="682.1" cy="1510" rx="4.1" ry="5.5" fill="#377EB8"/>
<ellipse cx="677.8" cy="1516.4" rx="4.1" ry="5.5" fill="#E41A1C"/>
<ellipse cx="678" cy="1538.4" rx="4.1" ry="5.5" fill="#377EB8"/>
<ellipse cx="685.1" cy="1547.2" rx="4.1" ry="5.5" fill="#377EB8"/>
<ellipse cx="677.4" cy="1549.8" rx="4.1" ry="5.5" fill="#E41A1C"/>
<ellipse cx="678" cy="1558.8" rx="4.1" ry="5.5" fill="#377EB8"/>
<ellipse cx="677.4" cy="1589.6" rx="4.1" ry="5.5" fill="#E41A1C"/>
<ellipse cx="685.1" cy="1587.4" rx="4.1" ry="5.5" fill="#377EB8"/>
<ellipse cx="678" cy="1606.4" rx="4.1" ry="5.5" fill="#377EB8"/>
<ellipse cx="676.9" cy="1642.5" rx="4.1" ry="5.5" fill="#E41A1C"/>
<ellipse cx="684.4" cy="1647.2" rx="4.1" ry="5.5" fill="#E41A1C"/>
<ellipse cx="677.4" cy="1651" rx="4.1" ry="5.5" fill="#377EB8"/>
<ellipse cx="678" cy="1668.3" rx="4.1" ry="5.5" fill="#377EB8"/>
<ellipse cx="678" cy="1685.3" rx="4.1" ry="5.5" fill="#377EB8"/>
<line x1="95" y1="1082" x2="754.3" y2="1082" stroke="#404040" stroke-width="1.6"/>
<line x1="95" y1="1746" x2="754.3" y2="1746" stroke="#404040" stroke-width="2"/>
<line x1="95.8" y1="1082" x2="95.8" y2="1746" stroke="#404040" stroke-width="1.6"/>
<line x1="753.5" y1="1082" x2="753.5" y2="1746" stroke="#404040" stroke-width="1.6"/>
<line x1="90" y1="1735.9" x2="95.8" y2="1735.9" stroke="#404040" stroke-width="2.8"/>
<line x1="90" y1="1539.85" x2="95.8" y2="1539.85" stroke="#404040" stroke-width="2.8"/>
<line x1="90" y1="1343.8" x2="95.8" y2="1343.8" stroke="#404040" stroke-width="2.8"/>
<line x1="90" y1="1147.75" x2="95.8" y2="1147.75" stroke="#404040" stroke-width="2.8"/>
<line x1="170.8" y1="1746" x2="170.8" y2="1754.6" stroke="#404040" stroke-width="2"/>
<line x1="297.6" y1="1746" x2="297.6" y2="1754.6" stroke="#404040" stroke-width="2"/>
<line x1="424.4" y1="1746" x2="424.4" y2="1754.6" stroke="#404040" stroke-width="2"/>
<line x1="551.2" y1="1746" x2="551.2" y2="1754.6" stroke="#404040" stroke-width="2"/>
<line x1="678" y1="1746" x2="678" y2="1754.6" stroke="#404040" stroke-width="2"/>
<text transform="translate(83.5,1746.1) scale(0.726,1)" font-size="25.7" text-anchor="end" fill="#4D4D4D" stroke="#4D4D4D" stroke-width="0.5">0</text>
<text transform="translate(83.5,1550.05) scale(0.726,1)" font-size="25.7" text-anchor="end" fill="#4D4D4D" stroke="#4D4D4D" stroke-width="0.5">50</text>
<text transform="translate(83.5,1354) scale(0.726,1)" font-size="25.7" text-anchor="end" fill="#4D4D4D" stroke="#4D4D4D" stroke-width="0.5">100</text>
<text transform="translate(83.5,1157.95) scale(0.726,1)" font-size="25.7" text-anchor="end" fill="#4D4D4D" stroke="#4D4D4D" stroke-width="0.5">150</text>
<text transform="translate(170.8,1780.3) scale(0.725,1)" font-size="26.2" text-anchor="middle" fill="#4D4D4D" stroke="#4D4D4D" stroke-width="0.5">IHC 0</text>
<text transform="translate(297.6,1780.3) scale(0.725,1)" font-size="26.2" text-anchor="middle" fill="#4D4D4D" stroke="#4D4D4D" stroke-width="0.5">IHC 1+</text>
<text transform="translate(424.4,1780.3) scale(0.725,1)" font-size="26.2" text-anchor="middle" fill="#4D4D4D" stroke="#4D4D4D" stroke-width="0.5">IHC 2+/ISH-</text>
<text transform="translate(551.2,1780.3) scale(0.725,1)" font-size="26.2" text-anchor="middle" fill="#4D4D4D" stroke="#4D4D4D" stroke-width="0.5">IHC 2+/ISH+</text>
<text transform="translate(678,1780.3) scale(0.725,1)" font-size="26.2" text-anchor="middle" fill="#4D4D4D" stroke="#4D4D4D" stroke-width="0.5">IHC 3+</text>
<text transform="translate(424.5,1814.2) scale(0.806,1)" font-size="30.1" text-anchor="middle" fill="#000" stroke="#000" stroke-width="0.5">HER2 status by pathologist assessment</text>
<text transform="translate(41.1,1413.5) rotate(-90) scale(1.02,0.8)" font-size="30.5" text-anchor="middle" fill="#000" stroke="#000" stroke-width="0.5">median membrane OD</text>
<ellipse cx="157.7" cy="1170.2" rx="4.1" ry="5.5" fill="#E41A1C"/>
<ellipse cx="157.7" cy="1218" rx="4.1" ry="5.5" fill="#377EB8"/>
<text transform="translate(189.2,1180) scale(0.748,1)" font-size="25.8" fill="#1a1a1a" stroke="#1a1a1a" stroke-width="0.5">Responder</text>
<text transform="translate(189.2,1228.7) scale(0.748,1)" font-size="25.8" fill="#1a1a1a" stroke="#1a1a1a" stroke-width="0.5">Non-Responder</text>
<text transform="translate(113.8,1676.4) scale(0.76,1)" font-size="28.6" font-weight="bold" fill="#000">N=9</text>
<text transform="translate(223.2,1633.6) scale(0.76,1)" font-size="28.6" font-weight="bold" fill="#000">N=39</text>
<text transform="translate(352.9,1569.4) scale(0.76,1)" font-size="28.6" font-weight="bold" fill="#000">N=17</text>
<text transform="translate(486.5,1568.7) scale(0.76,1)" font-size="28.6" font-weight="bold" fill="#000">N=13</text>
<text transform="translate(595.2,1277.5) scale(0.76,1)" font-size="28.6" font-weight="bold" fill="#000">N=59</text>
<text transform="translate(3.5,1088.2) scale(0.7,1)" font-size="60.6" font-weight="bold" fill="#000">B</text>
<rect x="906.1" y="1082.2" width="409.3" height="659.2" fill="#fff"/>
<line x1="906.1" y1="1637.4" x2="1315.4" y2="1637.4" stroke="#E9E9E9" stroke-width="1.6"/>
<line x1="906.1" y1="1452.2" x2="1315.4" y2="1452.2" stroke="#E9E9E9" stroke-width="1.6"/>
<line x1="906.1" y1="1267" x2="1315.4" y2="1267" stroke="#E9E9E9" stroke-width="1.6"/>
<line x1="906.1" y1="1730" x2="1315.4" y2="1730" stroke="#E9E9E9" stroke-width="2.6"/>
<line x1="906.1" y1="1544.8" x2="1315.4" y2="1544.8" stroke="#E9E9E9" stroke-width="2.6"/>
<line x1="906.1" y1="1359.6" x2="1315.4" y2="1359.6" stroke="#E9E9E9" stroke-width="2.6"/>
<line x1="906.1" y1="1174.4" x2="1315.4" y2="1174.4" stroke="#E9E9E9" stroke-width="2.6"/>
<line x1="1017.6" y1="1082.2" x2="1017.6" y2="1741.4" stroke="#E9E9E9" stroke-width="2.3"/>
<line x1="1203.1" y1="1082.2" x2="1203.1" y2="1741.4" stroke="#E9E9E9" stroke-width="2.3"/>
<line x1="1017.6" y1="1140.1" x2="1017.6" y2="1397.3" stroke="#1c1c1c" stroke-width="1.9"/>
<line x1="1017.6" y1="1658" x2="1017.6" y2="1710" stroke="#1c1c1c" stroke-width="1.9"/>
<rect x="947.6" y="1397.3" width="139.8" height="260.7" fill="#fff" stroke="none"/>
<line x1="946.55" y1="1397.3" x2="1088.45" y2="1397.3" stroke="#2e2e2e" stroke-width="2.8"/>
<line x1="946.55" y1="1658" x2="1088.45" y2="1658" stroke="#2e2e2e" stroke-width="2.8"/>
<line x1="947.6" y1="1397.3" x2="947.6" y2="1658" stroke="#2e2e2e" stroke-width="2.1"/>
<line x1="1087.4" y1="1397.3" x2="1087.4" y2="1658" stroke="#2e2e2e" stroke-width="2.1"/>
<line x1="947.6" y1="1587.3" x2="1087.4" y2="1587.3" stroke="#2e2e2e" stroke-width="5"/>
<line x1="1203.1" y1="1280.2" x2="1203.1" y2="1523.8" stroke="#1c1c1c" stroke-width="1.9"/>
<line x1="1203.1" y1="1680" x2="1203.1" y2="1712.4" stroke="#1c1c1c" stroke-width="1.9"/>
<rect x="1133.6" y="1523.8" width="139.5" height="156.2" fill="#fff" stroke="none"/>
<line x1="1132.55" y1="1523.8" x2="1274.15" y2="1523.8" stroke="#2e2e2e" stroke-width="2.8"/>
<line x1="1132.55" y1="1680" x2="1274.15" y2="1680" stroke="#2e2e2e" stroke-width="2.8"/>
<line x1="1133.6" y1="1523.8" x2="1133.6" y2="1680" stroke="#2e2e2e" stroke-width="2.1"/>
<line x1="1273.1" y1="1523.8" x2="1273.1" y2="1680" stroke="#2e2e2e" stroke-width="2.1"/>
<line x1="1133.6" y1="1636.2" x2="1273.1" y2="1636.2" stroke="#2e2e2e" stroke-width="5"/>
<ellipse cx="1017.6" cy="1140.1" rx="4.1" ry="5.5" fill="#E41A1C"/>
<ellipse cx="1017.6" cy="1187.9" rx="4.1" ry="5.5" fill="#E41A1C"/>
<ellipse cx="1017.6" cy="1225.9" rx="4.1" ry="5.5" fill="#E41A1C"/>
<ellipse cx="1017.6" cy="1249.8" rx="4.1" ry="5.5" fill="#E41A1C"/>
<ellipse cx="1013.5" cy="1259.8" rx="4.1" ry="5.5" fill="#E41A1C"/>
<ellipse cx="1017.6" cy="1261.9" rx="4.1" ry="5.5" fill="#E41A1C"/>
<ellipse cx="1017.6" cy="1268.8" rx="4.1" ry="5.5" fill="#E41A1C"/>
<ellipse cx="1022.1" cy="1277.5" rx="4.1" ry="5.5" fill="#E41A1C"/>
<ellipse cx="1017" cy="1280.1" rx="4.1" ry="5.5" fill="#E41A1C"/>
<ellipse cx="1022.1" cy="1294.8" rx="4.1" ry="5.5" fill="#E41A1C"/>
<ellipse cx="1017" cy="1296.5" rx="4.1" ry="5.5" fill="#E41A1C"/>
<ellipse cx="1017.6" cy="1323.4" rx="4.1" ry="5.5" fill="#E41A1C"/>
<ellipse cx="1020.4" cy="1332" rx="4.1" ry="5.5" fill="#E41A1C"/>
<ellipse cx="1016" cy="1336.4" rx="4.1" ry="5.5" fill="#E41A1C"/>
<ellipse cx="1020.4" cy="1340.2" rx="4.1" ry="5.5" fill="#E41A1C"/>
<ellipse cx="1017" cy="1346.8" rx="4.1" ry="5.5" fill="#E41A1C"/>
<ellipse cx="1017.6" cy="1359.8" rx="4.1" ry="5.5" fill="#E41A1C"/>
<ellipse cx="1013.5" cy="1396.5" rx="4.1" ry="5.5" fill="#E41A1C"/>
<ellipse cx="1021.3" cy="1396.5" rx="4.1" ry="5.5" fill="#E41A1C"/>
<ellipse cx="1017.6" cy="1406.8" rx="4.1" ry="5.5" fill="#E41A1C"/>
<ellipse cx="1021.8" cy="1427.1" rx="4.1" ry="5.5" fill="#E41A1C"/>
<ellipse cx="1017" cy="1430.2" rx="4.1" ry="5.5" fill="#E41A1C"/>
<ellipse cx="1017.6" cy="1438.9" rx="4.1" ry="5.5" fill="#E41A1C"/>
<ellipse cx="1017.6" cy="1465.7" rx="4.1" ry="5.5" fill="#E41A1C"/>
<ellipse cx="1017.6" cy="1477" rx="4.1" ry="5.5" fill="#E41A1C"/>
<ellipse cx="1017.6" cy="1496" rx="4.1" ry="5.5" fill="#E41A1C"/>
<ellipse cx="1017.6" cy="1509" rx="4.1" ry="5.5" fill="#E41A1C"/>
<ellipse cx="1012.6" cy="1521.2" rx="4.1" ry="5.5" fill="#E41A1C"/>
<ellipse cx="1021.3" cy="1522" rx="4.1" ry="5.5" fill="#E41A1C"/>
<ellipse cx="1017.6" cy="1541.1" rx="4.1" ry="5.5" fill="#E41A1C"/>
<ellipse cx="1021.3" cy="1554.1" rx="4.1" ry="5.5" fill="#E41A1C"/>
<ellipse cx="1017" cy="1556.7" rx="4.1" ry="5.5" fill="#E41A1C"/>
<ellipse cx="1017.6" cy="1574" rx="4.1" ry="5.5" fill="#E41A1C"/>
<ellipse cx="1012.2" cy="1583.5" rx="4.1" ry="5.5" fill="#E41A1C"/>
<ellipse cx="1019.5" cy="1587" rx="4.1" ry="5.5" fill="#E41A1C"/>
<ellipse cx="1017.6" cy="1594.8" rx="4.1" ry="5.5" fill="#E41A1C"/>
<ellipse cx="1021.3" cy="1599.1" rx="4.1" ry="5.5" fill="#E41A1C"/>
<ellipse cx="1018.7" cy="1611.2" rx="4.1" ry="5.5" fill="#E41A1C"/>
<ellipse cx="1017" cy="1618.2" rx="4.1" ry="5.5" fill="#E41A1C"/>
<ellipse cx="1017.6" cy="1627.7" rx="4.1" ry="5.5" fill="#E41A1C"/>
<ellipse cx="1021.3" cy="1634.6" rx="4.1" ry="5.5" fill="#E41A1C"/>
<ellipse cx="1009.1" cy="1644.2" rx="4.1" ry="5.5" fill="#E41A1C"/>
<ellipse cx="1017.6" cy="1643.3" rx="4.1" ry="5.5" fill="#E41A1C"/>
<ellipse cx="1026.4" cy="1646.8" rx="4.1" ry="5.5" fill="#E41A1C"/>
<ellipse cx="1008.3" cy="1648.5" rx="4.1" ry="5.5" fill="#E41A1C"/>
<ellipse cx="1017.6" cy="1652" rx="4.1" ry="5.5" fill="#E41A1C"/>
<ellipse cx="1021.3" cy="1655.4" rx="4.1" ry="5.5" fill="#E41A1C"/>
<ellipse cx="1013.5" cy="1666.7" rx="4.1" ry="5.5" fill="#E41A1C"/>
<ellipse cx="1024.7" cy="1666.7" rx="4.1" ry="5.5" fill="#E41A1C"/>
<ellipse cx="1017.6" cy="1672.7" rx="4.1" ry="5.5" fill="#E41A1C"/>
<ellipse cx="1009.1" cy="1682.3" rx="4.1" ry="5.5" fill="#E41A1C"/>
<ellipse cx="1024.7" cy="1682.3" rx="4.1" ry="5.5" fill="#E41A1C"/>
<ellipse cx="1017.6" cy="1684.9" rx="4.1" ry="5.5" fill="#E41A1C"/>
<ellipse cx="1014.5" cy="1693.5" rx="4.1" ry="5.5" fill="#E41A1C"/>
<ellipse cx="1021.3" cy="1693.5" rx="4.1" ry="5.5" fill="#E41A1C"/>
<ellipse cx="1017.6" cy="1700" rx="4.1" ry="5.5" fill="#E41A1C"/>
<ellipse cx="1012.5" cy="1704" rx="4.1" ry="5.5" fill="#E41A1C"/>
<ellipse cx="1022.5" cy="1704.5" rx="4.1" ry="5.5" fill="#E41A1C"/>
<ellipse cx="1017.6" cy="1709.5" rx="4.1" ry="5.5" fill="#E41A1C"/>
<ellipse cx="1018.43" cy="1632.97" rx="4.1" ry="5.5" fill="#E41A1C"/>
<ellipse cx="1021.65" cy="1634.26" rx="4.1" ry="5.5" fill="#E41A1C"/>
<ellipse cx="1012.08" cy="1637.21" rx="4.1" ry="5.5" fill="#E41A1C"/>
<ellipse cx="1017.05" cy="1638.49" rx="4.1" ry="5.5" fill="#E41A1C"/>
<ellipse cx="1022.01" cy="1637.21" rx="4.1" ry="5.5" fill="#E41A1C"/>
<ellipse cx="1009.42" cy="1641.44" rx="4.1" ry="5.5" fill="#E41A1C"/>
<ellipse cx="1014.26" cy="1642.73" rx="4.1" ry="5.5" fill="#E41A1C"/>
<ellipse cx="1019.11" cy="1641.44" rx="4.1" ry="5.5" fill="#E41A1C"/>
<ellipse cx="1023.96" cy="1642.73" rx="4.1" ry="5.5" fill="#E41A1C"/>
<ellipse cx="1008.36" cy="1645.67" rx="4.1" ry="5.5" fill="#E41A1C"/>
<ellipse cx="1014.44" cy="1646.96" rx="4.1" ry="5.5" fill="#E41A1C"/>
<ellipse cx="1020.52" cy="1645.67" rx="4.1" ry="5.5" fill="#E41A1C"/>
<ellipse cx="1026.6" cy="1646.96" rx="4.1" ry="5.5" fill="#E41A1C"/>
<ellipse cx="1008.89" cy="1649.91" rx="4.1" ry="5.5" fill="#E41A1C"/>
<ellipse cx="1014.25" cy="1651.19" rx="4.1" ry="5.5" fill="#E41A1C"/>
<ellipse cx="1019.62" cy="1649.91" rx="4.1" ry="5.5" fill="#E41A1C"/>
<ellipse cx="1024.98" cy="1651.19" rx="4.1" ry="5.5" fill="#E41A1C"/>
<ellipse cx="1012.54" cy="1654.14" rx="4.1" ry="5.5" fill="#E41A1C"/>
<ellipse cx="1017.33" cy="1655.43" rx="4.1" ry="5.5" fill="#E41A1C"/>
<ellipse cx="1022.11" cy="1654.14" rx="4.1" ry="5.5" fill="#E41A1C"/>
<ellipse cx="1016.78" cy="1658.37" rx="4.1" ry="5.5" fill="#E41A1C"/>
<ellipse cx="1020.42" cy="1659.66" rx="4.1" ry="5.5" fill="#E41A1C"/>
<ellipse cx="1014.66" cy="1662.6" rx="4.1" ry="5.5" fill="#E41A1C"/>
<ellipse cx="1019.07" cy="1663.89" rx="4.1" ry="5.5" fill="#E41A1C"/>
<ellipse cx="1023.47" cy="1662.6" rx="4.1" ry="5.5" fill="#E41A1C"/>
<ellipse cx="1013.65" cy="1666.84" rx="4.1" ry="5.5" fill="#E41A1C"/>
<ellipse cx="1019.35" cy="1668.13" rx="4.1" ry="5.5" fill="#E41A1C"/>
<ellipse cx="1025.06" cy="1666.84" rx="4.1" ry="5.5" fill="#E41A1C"/>
<ellipse cx="1014.4" cy="1671.07" rx="4.1" ry="5.5" fill="#E41A1C"/>
<ellipse cx="1019.24" cy="1672.36" rx="4.1" ry="5.5" fill="#E41A1C"/>
<ellipse cx="1024.08" cy="1671.07" rx="4.1" ry="5.5" fill="#E41A1C"/>
<ellipse cx="1015.67" cy="1675.3" rx="4.1" ry="5.5" fill="#E41A1C"/>
<ellipse cx="1020.27" cy="1676.59" rx="4.1" ry="5.5" fill="#E41A1C"/>
<ellipse cx="1011.44" cy="1679.54" rx="4.1" ry="5.5" fill="#E41A1C"/>
<ellipse cx="1017.22" cy="1680.82" rx="4.1" ry="5.5" fill="#E41A1C"/>
<ellipse cx="1023" cy="1679.54" rx="4.1" ry="5.5" fill="#E41A1C"/>
<ellipse cx="1009.91" cy="1683.77" rx="4.1" ry="5.5" fill="#E41A1C"/>
<ellipse cx="1014.63" cy="1685.06" rx="4.1" ry="5.5" fill="#E41A1C"/>
<ellipse cx="1019.35" cy="1683.77" rx="4.1" ry="5.5" fill="#E41A1C"/>
<ellipse cx="1024.08" cy="1685.06" rx="4.1" ry="5.5" fill="#E41A1C"/>
<ellipse cx="1011.5" cy="1688" rx="4.1" ry="5.5" fill="#E41A1C"/>
<ellipse cx="1017.34" cy="1689.29" rx="4.1" ry="5.5" fill="#E41A1C"/>
<ellipse cx="1023.19" cy="1688" rx="4.1" ry="5.5" fill="#E41A1C"/>
<ellipse cx="1013.97" cy="1692.24" rx="4.1" ry="5.5" fill="#E41A1C"/>
<ellipse cx="1021.42" cy="1693.52" rx="4.1" ry="5.5" fill="#E41A1C"/>
<ellipse cx="1014.03" cy="1696.47" rx="4.1" ry="5.5" fill="#E41A1C"/>
<ellipse cx="1021.19" cy="1697.76" rx="4.1" ry="5.5" fill="#E41A1C"/>
<ellipse cx="1013.73" cy="1700.7" rx="4.1" ry="5.5" fill="#E41A1C"/>
<ellipse cx="1021.3" cy="1701.99" rx="4.1" ry="5.5" fill="#E41A1C"/>
<ellipse cx="1013.43" cy="1704.93" rx="4.1" ry="5.5" fill="#E41A1C"/>
<ellipse cx="1017.51" cy="1706.22" rx="4.1" ry="5.5" fill="#E41A1C"/>
<ellipse cx="1021.6" cy="1704.93" rx="4.1" ry="5.5" fill="#E41A1C"/>
<ellipse cx="1015.82" cy="1709.17" rx="4.1" ry="5.5" fill="#E41A1C"/>
<ellipse cx="1019.21" cy="1710.46" rx="4.1" ry="5.5" fill="#E41A1C"/>
<ellipse cx="1203.1" cy="1280.2" rx="4.1" ry="5.5" fill="#377EB8"/>
<ellipse cx="1205.7" cy="1290.6" rx="4.1" ry="5.5" fill="#377EB8"/>
<ellipse cx="1202.6" cy="1297.2" rx="4.1" ry="5.5" fill="#377EB8"/>
<ellipse cx="1203.1" cy="1305.8" rx="4.1" ry="5.5" fill="#377EB8"/>
<ellipse cx="1203.1" cy="1324.4" rx="4.1" ry="5.5" fill="#377EB8"/>
<ellipse cx="1203.1" cy="1359.5" rx="4.1" ry="5.5" fill="#377EB8"/>
<ellipse cx="1199.6" cy="1380.7" rx="4.1" ry="5.5" fill="#377EB8"/>
<ellipse cx="1208.3" cy="1382.9" rx="4.1" ry="5.5" fill="#377EB8"/>
<ellipse cx="1203.4" cy="1386.4" rx="4.1" ry="5.5" fill="#377EB8"/>
<ellipse cx="1203.1" cy="1403.2" rx="4.1" ry="5.5" fill="#377EB8"/>
<ellipse cx="1203.1" cy="1417.6" rx="4.1" ry="5.5" fill="#377EB8"/>
<ellipse cx="1203.1" cy="1426.2" rx="4.1" ry="5.5" fill="#377EB8"/>
<ellipse cx="1203.1" cy="1446.5" rx="4.1" ry="5.5" fill="#377EB8"/>
<ellipse cx="1203.1" cy="1467.4" rx="4.1" ry="5.5" fill="#377EB8"/>
<ellipse cx="1203.1" cy="1477.3" rx="4.1" ry="5.5" fill="#377EB8"/>
<ellipse cx="1208.3" cy="1497.8" rx="4.1" ry="5.5" fill="#377EB8"/>
<ellipse cx="1203.1" cy="1499.8" rx="4.1" ry="5.5" fill="#377EB8"/>
<ellipse cx="1203.1" cy="1508.1" rx="4.1" ry="5.5" fill="#377EB8"/>
<ellipse cx="1203.1" cy="1517.2" rx="4.1" ry="5.5" fill="#377EB8"/>
<ellipse cx="1203.1" cy="1526.7" rx="4.1" ry="5.5" fill="#377EB8"/>
<ellipse cx="1203.1" cy="1543.6" rx="4.1" ry="5.5" fill="#377EB8"/>
<ellipse cx="1206.9" cy="1552" rx="4.1" ry="5.5" fill="#377EB8"/>
<ellipse cx="1203.1" cy="1557.7" rx="4.1" ry="5.5" fill="#377EB8"/>
<ellipse cx="1203.1" cy="1566.1" rx="4.1" ry="5.5" fill="#377EB8"/>
<ellipse cx="1203.1" cy="1571.7" rx="4.1" ry="5.5" fill="#377EB8"/>
<ellipse cx="1206.9" cy="1577.1" rx="4.1" ry="5.5" fill="#377EB8"/>
<ellipse cx="1203.1" cy="1583" rx="4.1" ry="5.5" fill="#377EB8"/>
<ellipse cx="1203.1" cy="1590.7" rx="4.1" ry="5.5" fill="#377EB8"/>
<ellipse cx="1210.4" cy="1602.7" rx="4.1" ry="5.5" fill="#377EB8"/>
<ellipse cx="1199.2" cy="1607.6" rx="4.1" ry="5.5" fill="#377EB8"/>
<ellipse cx="1206.2" cy="1611.1" rx="4.1" ry="5.5" fill="#377EB8"/>
<ellipse cx="1204.1" cy="1618.2" rx="4.1" ry="5.5" fill="#377EB8"/>
<ellipse cx="1205.5" cy="1625.2" rx="4.1" ry="5.5" fill="#377EB8"/>
<ellipse cx="1203.1" cy="1632.2" rx="4.1" ry="5.5" fill="#377EB8"/>
<ellipse cx="1202" cy="1639.3" rx="4.1" ry="5.5" fill="#377EB8"/>
<ellipse cx="1205.5" cy="1642.1" rx="4.1" ry="5.5" fill="#377EB8"/>
<ellipse cx="1201.3" cy="1647.7" rx="4.1" ry="5.5" fill="#377EB8"/>
<ellipse cx="1206.2" cy="1651.9" rx="4.1" ry="5.5" fill="#377EB8"/>
<ellipse cx="1203.1" cy="1657.5" rx="4.1" ry="5.5" fill="#377EB8"/>
<ellipse cx="1198.5" cy="1666" rx="4.1" ry="5.5" fill="#377EB8"/>
<ellipse cx="1208.3" cy="1666" rx="4.1" ry="5.5" fill="#377EB8"/>
<ellipse cx="1203.1" cy="1667.4" rx="4.1" ry="5.5" fill="#377EB8"/>
<ellipse cx="1203.1" cy="1674.4" rx="4.1" ry="5.5" fill="#377EB8"/>
<ellipse cx="1192.8" cy="1679.4" rx="4.1" ry="5.5" fill="#377EB8"/>
<ellipse cx="1199.9" cy="1680.1" rx="4.1" ry="5.5" fill="#377EB8"/>
<ellipse cx="1206.9" cy="1678.7" rx="4.1" ry="5.5" fill="#377EB8"/>
<ellipse cx="1214.6" cy="1676.5" rx="4.1" ry="5.5" fill="#377EB8"/>
<ellipse cx="1197.1" cy="1688.5" rx="4.1" ry="5.5" fill="#377EB8"/>
<ellipse cx="1204.1" cy="1688.5" rx="4.1" ry="5.5" fill="#377EB8"/>
<ellipse cx="1210.4" cy="1687.1" rx="4.1" ry="5.5" fill="#377EB8"/>
<ellipse cx="1188.6" cy="1698.3" rx="4.1" ry="5.5" fill="#377EB8"/>
<ellipse cx="1195.7" cy="1699.7" rx="4.1" ry="5.5" fill="#377EB8"/>
<ellipse cx="1203.1" cy="1696.9" rx="4.1" ry="5.5" fill="#377EB8"/>
<ellipse cx="1209.7" cy="1699.7" rx="4.1" ry="5.5" fill="#377EB8"/>
<ellipse cx="1216.8" cy="1698.3" rx="4.1" ry="5.5" fill="#377EB8"/>
<ellipse cx="1192.8" cy="1704" rx="4.1" ry="5.5" fill="#377EB8"/>
<ellipse cx="1199.9" cy="1706.8" rx="4.1" ry="5.5" fill="#377EB8"/>
<ellipse cx="1206.9" cy="1706.8" rx="4.1" ry="5.5" fill="#377EB8"/>
<ellipse cx="1213.2" cy="1704" rx="4.1" ry="5.5" fill="#377EB8"/>
<ellipse cx="1203.1" cy="1712.4" rx="4.1" ry="5.5" fill="#377EB8"/>
<ellipse cx="1203.89" cy="1614.57" rx="4.1" ry="5.5" fill="#377EB8"/>
<ellipse cx="1207.57" cy="1615.86" rx="4.1" ry="5.5" fill="#377EB8"/>
<ellipse cx="1203.68" cy="1618.8" rx="4.1" ry="5.5" fill="#377EB8"/>
<ellipse cx="1207.36" cy="1620.09" rx="4.1" ry="5.5" fill="#377EB8"/>
<ellipse cx="1203.47" cy="1623.03" rx="4.1" ry="5.5" fill="#377EB8"/>
<ellipse cx="1207.15" cy="1624.32" rx="4.1" ry="5.5" fill="#377EB8"/>
<ellipse cx="1202.12" cy="1627.27" rx="4.1" ry="5.5" fill="#377EB8"/>
<ellipse cx="1207.55" cy="1628.56" rx="4.1" ry="5.5" fill="#377EB8"/>
<ellipse cx="1200.64" cy="1631.5" rx="4.1" ry="5.5" fill="#377EB8"/>
<ellipse cx="1208.02" cy="1632.79" rx="4.1" ry="5.5" fill="#377EB8"/>
<ellipse cx="1200.29" cy="1635.73" rx="4.1" ry="5.5" fill="#377EB8"/>
<ellipse cx="1207.84" cy="1637.02" rx="4.1" ry="5.5" fill="#377EB8"/>
<ellipse cx="1199.94" cy="1639.97" rx="4.1" ry="5.5" fill="#377EB8"/>
<ellipse cx="1207.67" cy="1641.26" rx="4.1" ry="5.5" fill="#377EB8"/>
<ellipse cx="1199.75" cy="1644.2" rx="4.1" ry="5.5" fill="#377EB8"/>
<ellipse cx="1207.47" cy="1645.49" rx="4.1" ry="5.5" fill="#377EB8"/>
<ellipse cx="1199.75" cy="1648.43" rx="4.1" ry="5.5" fill="#377EB8"/>
<ellipse cx="1207.26" cy="1649.72" rx="4.1" ry="5.5" fill="#377EB8"/>
<ellipse cx="1200.61" cy="1652.67" rx="4.1" ry="5.5" fill="#377EB8"/>
<ellipse cx="1207.11" cy="1653.95" rx="4.1" ry="5.5" fill="#377EB8"/>
<ellipse cx="1203.43" cy="1656.9" rx="4.1" ry="5.5" fill="#377EB8"/>
<ellipse cx="1207.11" cy="1658.19" rx="4.1" ry="5.5" fill="#377EB8"/>
<ellipse cx="1200.11" cy="1661.13" rx="4.1" ry="5.5" fill="#377EB8"/>
<ellipse cx="1205.27" cy="1662.42" rx="4.1" ry="5.5" fill="#377EB8"/>
<ellipse cx="1210.44" cy="1661.13" rx="4.1" ry="5.5" fill="#377EB8"/>
<ellipse cx="1198.71" cy="1665.36" rx="4.1" ry="5.5" fill="#377EB8"/>
<ellipse cx="1205.36" cy="1666.65" rx="4.1" ry="5.5" fill="#377EB8"/>
<ellipse cx="1212.01" cy="1665.36" rx="4.1" ry="5.5" fill="#377EB8"/>
<ellipse cx="1198.63" cy="1669.6" rx="4.1" ry="5.5" fill="#377EB8"/>
<ellipse cx="1203.14" cy="1670.89" rx="4.1" ry="5.5" fill="#377EB8"/>
<ellipse cx="1207.65" cy="1669.6" rx="4.1" ry="5.5" fill="#377EB8"/>
<ellipse cx="1212.16" cy="1670.89" rx="4.1" ry="5.5" fill="#377EB8"/>
<ellipse cx="1195.03" cy="1673.83" rx="4.1" ry="5.5" fill="#377EB8"/>
<ellipse cx="1199.9" cy="1675.12" rx="4.1" ry="5.5" fill="#377EB8"/>
<ellipse cx="1204.77" cy="1673.83" rx="4.1" ry="5.5" fill="#377EB8"/>
<ellipse cx="1209.64" cy="1675.12" rx="4.1" ry="5.5" fill="#377EB8"/>
<ellipse cx="1214.51" cy="1673.83" rx="4.1" ry="5.5" fill="#377EB8"/>
<ellipse cx="1193.62" cy="1678.06" rx="4.1" ry="5.5" fill="#377EB8"/>
<ellipse cx="1198.93" cy="1679.35" rx="4.1" ry="5.5" fill="#377EB8"/>
<ellipse cx="1204.24" cy="1678.06" rx="4.1" ry="5.5" fill="#377EB8"/>
<ellipse cx="1209.55" cy="1679.35" rx="4.1" ry="5.5" fill="#377EB8"/>
<ellipse cx="1214.86" cy="1678.06" rx="4.1" ry="5.5" fill="#377EB8"/>
<ellipse cx="1195.3" cy="1682.3" rx="4.1" ry="5.5" fill="#377EB8"/>
<ellipse cx="1200.85" cy="1683.59" rx="4.1" ry="5.5" fill="#377EB8"/>
<ellipse cx="1206.4" cy="1682.3" rx="4.1" ry="5.5" fill="#377EB8"/>
<ellipse cx="1211.96" cy="1683.59" rx="4.1" ry="5.5" fill="#377EB8"/>
<ellipse cx="1196.28" cy="1686.53" rx="4.1" ry="5.5" fill="#377EB8"/>
<ellipse cx="1200.98" cy="1687.82" rx="4.1" ry="5.5" fill="#377EB8"/>
<ellipse cx="1205.68" cy="1686.53" rx="4.1" ry="5.5" fill="#377EB8"/>
<ellipse cx="1210.37" cy="1687.82" rx="4.1" ry="5.5" fill="#377EB8"/>
<ellipse cx="1195.43" cy="1690.76" rx="4.1" ry="5.5" fill="#377EB8"/>
<ellipse cx="1200.59" cy="1692.05" rx="4.1" ry="5.5" fill="#377EB8"/>
<ellipse cx="1205.75" cy="1690.76" rx="4.1" ry="5.5" fill="#377EB8"/>
<ellipse cx="1210.91" cy="1692.05" rx="4.1" ry="5.5" fill="#377EB8"/>
<ellipse cx="1189.63" cy="1695" rx="4.1" ry="5.5" fill="#377EB8"/>
<ellipse cx="1194.97" cy="1696.28" rx="4.1" ry="5.5" fill="#377EB8"/>
<ellipse cx="1200.31" cy="1695" rx="4.1" ry="5.5" fill="#377EB8"/>
<ellipse cx="1205.64" cy="1696.28" rx="4.1" ry="5.5" fill="#377EB8"/>
<ellipse cx="1210.98" cy="1695" rx="4.1" ry="5.5" fill="#377EB8"/>
<ellipse cx="1216.32" cy="1696.28" rx="4.1" ry="5.5" fill="#377EB8"/>
<ellipse cx="1189.63" cy="1699.23" rx="4.1" ry="5.5" fill="#377EB8"/>
<ellipse cx="1194.97" cy="1700.52" rx="4.1" ry="5.5" fill="#377EB8"/>
<ellipse cx="1200.31" cy="1699.23" rx="4.1" ry="5.5" fill="#377EB8"/>
<ellipse cx="1205.64" cy="1700.52" rx="4.1" ry="5.5" fill="#377EB8"/>
<ellipse cx="1210.98" cy="1699.23" rx="4.1" ry="5.5" fill="#377EB8"/>
<ellipse cx="1216.32" cy="1700.52" rx="4.1" ry="5.5" fill="#377EB8"/>
<ellipse cx="1192.94" cy="1703.46" rx="4.1" ry="5.5" fill="#377EB8"/>
<ellipse cx="1198.12" cy="1704.75" rx="4.1" ry="5.5" fill="#377EB8"/>
<ellipse cx="1203.3" cy="1703.46" rx="4.1" ry="5.5" fill="#377EB8"/>
<ellipse cx="1208.49" cy="1704.75" rx="4.1" ry="5.5" fill="#377EB8"/>
<ellipse cx="1213.67" cy="1703.46" rx="4.1" ry="5.5" fill="#377EB8"/>
<ellipse cx="1197.67" cy="1707.69" rx="4.1" ry="5.5" fill="#377EB8"/>
<ellipse cx="1203.68" cy="1708.98" rx="4.1" ry="5.5" fill="#377EB8"/>
<ellipse cx="1209.69" cy="1707.69" rx="4.1" ry="5.5" fill="#377EB8"/>
<ellipse cx="1202" cy="1711.93" rx="4.1" ry="5.5" fill="#377EB8"/>
<ellipse cx="1205.46" cy="1713.22" rx="4.1" ry="5.5" fill="#377EB8"/>
<polyline points="1017.6,1129.4 1017.6,1111.2 1203.1,1111.2 1203.1,1129.4" fill="none" stroke="#222" stroke-width="1.4"/>
<text transform="translate(1110.35,1104.8) scale(0.785,1)" font-size="31" text-anchor="middle" fill="#000" stroke="#000" stroke-width="0.5">0.015</text>
<line x1="905.3" y1="1082.2" x2="1316.2" y2="1082.2" stroke="#404040" stroke-width="1.8"/>
<line x1="905.3" y1="1741.4" x2="1316.2" y2="1741.4" stroke="#404040" stroke-width="2.4"/>
<line x1="906.1" y1="1082.2" x2="906.1" y2="1741.4" stroke="#404040" stroke-width="1.6"/>
<line x1="1315.4" y1="1082.2" x2="1315.4" y2="1741.4" stroke="#404040" stroke-width="2.4"/>
<line x1="900.3" y1="1730" x2="906.1" y2="1730" stroke="#404040" stroke-width="2.8"/>
<line x1="900.3" y1="1544.8" x2="906.1" y2="1544.8" stroke="#404040" stroke-width="2.8"/>
<line x1="900.3" y1="1359.6" x2="906.1" y2="1359.6" stroke="#404040" stroke-width="2.8"/>
<line x1="900.3" y1="1174.4" x2="906.1" y2="1174.4" stroke="#404040" stroke-width="2.8"/>
<line x1="1017.6" y1="1741.4" x2="1017.6" y2="1750" stroke="#404040" stroke-width="2"/>
<line x1="1203.1" y1="1741.4" x2="1203.1" y2="1750" stroke="#404040" stroke-width="2"/>
<text transform="translate(894.4,1740.2) scale(0.726,1)" font-size="25.7" text-anchor="end" fill="#4D4D4D" stroke="#4D4D4D" stroke-width="0.5">0</text>
<text transform="translate(894.4,1555) scale(0.726,1)" font-size="25.7" text-anchor="end" fill="#4D4D4D" stroke="#4D4D4D" stroke-width="0.5">50</text>
<text transform="translate(894.4,1369.8) scale(0.726,1)" font-size="25.7" text-anchor="end" fill="#4D4D4D" stroke="#4D4D4D" stroke-width="0.5">100</text>
<text transform="translate(894.4,1184.6) scale(0.726,1)" font-size="25.7" text-anchor="end" fill="#4D4D4D" stroke="#4D4D4D" stroke-width="0.5">150</text>
<text transform="translate(1017.6,1775.5) scale(0.761,1)" font-size="25.2" text-anchor="middle" fill="#4D4D4D" stroke="#4D4D4D" stroke-width="0.5">Responder</text>
<text transform="translate(1203.1,1775.5) scale(0.761,1)" font-size="25.2" text-anchor="middle" fill="#4D4D4D" stroke="#4D4D4D" stroke-width="0.5">Non-Responder</text>
<text transform="translate(1110.5,1809) scale(0.778,1)" font-size="30.7" text-anchor="middle" fill="#000" stroke="#000" stroke-width="0.5">Response status by RECIST</text>
<text transform="translate(851.6,1412.4) rotate(-90) scale(1.017,0.78)" font-size="30.5" text-anchor="middle" fill="#000" stroke="#000" stroke-width="0.5">median membrane OD</text>
<rect x="1487.9" y="1081.5" width="493.3" height="662.1" fill="#fff"/>
<line x1="1487.9" y1="1641.68" x2="1981.2" y2="1641.68" stroke="#ECECEC" stroke-width="1.3"/>
<line x1="1487.9" y1="1523.44" x2="1981.2" y2="1523.44" stroke="#ECECEC" stroke-width="1.3"/>
<line x1="1487.9" y1="1405.2" x2="1981.2" y2="1405.2" stroke="#ECECEC" stroke-width="1.3"/>
<line x1="1487.9" y1="1286.96" x2="1981.2" y2="1286.96" stroke="#ECECEC" stroke-width="1.3"/>
<line x1="1487.9" y1="1168.72" x2="1981.2" y2="1168.72" stroke="#ECECEC" stroke-width="1.3"/>
<line x1="1568.2" y1="1081.5" x2="1568.2" y2="1743.6" stroke="#ECECEC" stroke-width="1.1"/>
<line x1="1713.4" y1="1081.5" x2="1713.4" y2="1743.6" stroke="#ECECEC" stroke-width="1.1"/>
<line x1="1858.6" y1="1081.5" x2="1858.6" y2="1743.6" stroke="#ECECEC" stroke-width="1.1"/>
<line x1="1487.9" y1="1700.8" x2="1981.2" y2="1700.8" stroke="#ECECEC" stroke-width="2.3"/>
<line x1="1487.9" y1="1582.56" x2="1981.2" y2="1582.56" stroke="#ECECEC" stroke-width="2.3"/>
<line x1="1487.9" y1="1464.32" x2="1981.2" y2="1464.32" stroke="#ECECEC" stroke-width="2.3"/>
<line x1="1487.9" y1="1346.08" x2="1981.2" y2="1346.08" stroke="#ECECEC" stroke-width="2.3"/>
<line x1="1487.9" y1="1227.84" x2="1981.2" y2="1227.84" stroke="#ECECEC" stroke-width="2.3"/>
<line x1="1487.9" y1="1109.6" x2="1981.2" y2="1109.6" stroke="#ECECEC" stroke-width="2.3"/>
<line x1="1495.6" y1="1081.5" x2="1495.6" y2="1743.6" stroke="#ECECEC" stroke-width="2"/>
<line x1="1640.8" y1="1081.5" x2="1640.8" y2="1743.6" stroke="#ECECEC" stroke-width="2"/>
<line x1="1786" y1="1081.5" x2="1786" y2="1743.6" stroke="#ECECEC" stroke-width="2"/>
<line x1="1931.2" y1="1081.5" x2="1931.2" y2="1743.6" stroke="#ECECEC" stroke-width="2"/>
<line x1="1921.6" y1="1203.7" x2="1508.4" y2="1718.2" stroke="#000" stroke-width="4.4" stroke-dasharray="20 20"/>
<ellipse cx="1511.24" cy="1698.8" rx="3.6" ry="4.6" fill="#B5B5B5"/>
<ellipse cx="1515.88" cy="1704.43" rx="3.6" ry="4.6" fill="#B5B5B5"/>
<ellipse cx="1517.99" cy="1682.62" rx="3.6" ry="4.6" fill="#B5B5B5"/>
<ellipse cx="1520.8" cy="1673.47" rx="3.6" ry="4.6" fill="#B5B5B5"/>
<ellipse cx="1523.62" cy="1676.99" rx="3.6" ry="4.6" fill="#B5B5B5"/>
<ellipse cx="1528.54" cy="1660.1" rx="3.6" ry="4.6" fill="#B5B5B5"/>
<ellipse cx="1533.47" cy="1672.77" rx="3.6" ry="4.6" fill="#B5B5B5"/>
<ellipse cx="1536.28" cy="1661.51" rx="3.6" ry="4.6" fill="#B5B5B5"/>
<ellipse cx="1541.91" cy="1656.59" rx="3.6" ry="4.6" fill="#B5B5B5"/>
<ellipse cx="1545.43" cy="1648.85" rx="3.6" ry="4.6" fill="#B5B5B5"/>
<ellipse cx="1548.95" cy="1647.44" rx="3.6" ry="4.6" fill="#B5B5B5"/>
<ellipse cx="1551.76" cy="1637.59" rx="3.6" ry="4.6" fill="#B5B5B5"/>
<ellipse cx="1556.68" cy="1641.81" rx="3.6" ry="4.6" fill="#B5B5B5"/>
<ellipse cx="1558.8" cy="1626.33" rx="3.6" ry="4.6" fill="#B5B5B5"/>
<ellipse cx="1561.61" cy="1650.96" rx="3.6" ry="4.6" fill="#B5B5B5"/>
<ellipse cx="1564.42" cy="1659.4" rx="3.6" ry="4.6" fill="#B5B5B5"/>
<ellipse cx="1570.05" cy="1636.89" rx="3.6" ry="4.6" fill="#B5B5B5"/>
<ellipse cx="1572.87" cy="1645.33" rx="3.6" ry="4.6" fill="#B5B5B5"/>
<ellipse cx="1575.68" cy="1648.85" rx="3.6" ry="4.6" fill="#B5B5B5"/>
<ellipse cx="1578.49" cy="1632.67" rx="3.6" ry="4.6" fill="#B5B5B5"/>
<ellipse cx="1584.83" cy="1622.11" rx="3.6" ry="4.6" fill="#B5B5B5"/>
<ellipse cx="1589.75" cy="1627.74" rx="3.6" ry="4.6" fill="#B5B5B5"/>
<ellipse cx="1592.57" cy="1599.6" rx="3.6" ry="4.6" fill="#B5B5B5"/>
<ellipse cx="1595.66" cy="1589.75" rx="3.6" ry="4.6" fill="#B5B5B5"/>
<ellipse cx="1599.6" cy="1603.82" rx="3.6" ry="4.6" fill="#B5B5B5"/>
<ellipse cx="1604.53" cy="1611.56" rx="3.6" ry="4.6" fill="#B5B5B5"/>
<ellipse cx="1605.93" cy="1601.01" rx="3.6" ry="4.6" fill="#B5B5B5"/>
<ellipse cx="1610.86" cy="1623.52" rx="3.6" ry="4.6" fill="#B5B5B5"/>
<ellipse cx="1615.78" cy="1602.41" rx="3.6" ry="4.6" fill="#B5B5B5"/>
<ellipse cx="1618.6" cy="1609.45" rx="3.6" ry="4.6" fill="#B5B5B5"/>
<ellipse cx="1620.71" cy="1601.01" rx="3.6" ry="4.6" fill="#B5B5B5"/>
<ellipse cx="1627.04" cy="1587.64" rx="3.6" ry="4.6" fill="#B5B5B5"/>
<ellipse cx="1632.67" cy="1594.68" rx="3.6" ry="4.6" fill="#B5B5B5"/>
<ellipse cx="1636.18" cy="1578.49" rx="3.6" ry="4.6" fill="#B5B5B5"/>
<ellipse cx="1641.81" cy="1564.42" rx="3.6" ry="4.6" fill="#B5B5B5"/>
<ellipse cx="1644.63" cy="1573.57" rx="3.6" ry="4.6" fill="#B5B5B5"/>
<ellipse cx="1655.88" cy="1559.5" rx="3.6" ry="4.6" fill="#B5B5B5"/>
<ellipse cx="1660.1" cy="1588.34" rx="3.6" ry="4.6" fill="#B5B5B5"/>
<ellipse cx="1662.92" cy="1570.05" rx="3.6" ry="4.6" fill="#B5B5B5"/>
<ellipse cx="1669.95" cy="1582.72" rx="3.6" ry="4.6" fill="#B5B5B5"/>
<ellipse cx="1671.36" cy="1567.24" rx="3.6" ry="4.6" fill="#B5B5B5"/>
<ellipse cx="1676.99" cy="1551.76" rx="3.6" ry="4.6" fill="#B5B5B5"/>
<ellipse cx="1678.4" cy="1532.76" rx="3.6" ry="4.6" fill="#B5B5B5"/>
<ellipse cx="1679.8" cy="1541.91" rx="3.6" ry="4.6" fill="#B5B5B5"/>
<ellipse cx="1693.87" cy="1525.03" rx="3.6" ry="4.6" fill="#B5B5B5"/>
<ellipse cx="1694.58" cy="1533.47" rx="3.6" ry="4.6" fill="#B5B5B5"/>
<ellipse cx="1702.32" cy="1515.18" rx="3.6" ry="4.6" fill="#B5B5B5"/>
<ellipse cx="1703.02" cy="1525.03" rx="3.6" ry="4.6" fill="#B5B5B5"/>
<ellipse cx="1718.78" cy="1504.62" rx="3.6" ry="4.6" fill="#B5B5B5"/>
<ellipse cx="1733.27" cy="1527.84" rx="3.6" ry="4.6" fill="#B5B5B5"/>
<ellipse cx="1733.27" cy="1539.1" rx="3.6" ry="4.6" fill="#B5B5B5"/>
<ellipse cx="1741.15" cy="1490.65" rx="3.6" ry="4.6" fill="#B5B5B5"/>
<ellipse cx="1749.87" cy="1503.1" rx="3.6" ry="4.6" fill="#B5B5B5"/>
<ellipse cx="1752.35" cy="1475.72" rx="3.6" ry="4.6" fill="#B5B5B5"/>
<ellipse cx="1757.33" cy="1490.65" rx="3.6" ry="4.6" fill="#B5B5B5"/>
<ellipse cx="1757.33" cy="1519.27" rx="3.6" ry="4.6" fill="#B5B5B5"/>
<ellipse cx="1767.29" cy="1488.16" rx="3.6" ry="4.6" fill="#B5B5B5"/>
<ellipse cx="1768.53" cy="1453.32" rx="3.6" ry="4.6" fill="#B5B5B5"/>
<ellipse cx="1770.52" cy="1417.98" rx="3.6" ry="4.6" fill="#B5B5B5"/>
<ellipse cx="1785.95" cy="1378.66" rx="3.6" ry="4.6" fill="#B5B5B5"/>
<ellipse cx="1785.95" cy="1391.1" rx="3.6" ry="4.6" fill="#B5B5B5"/>
<ellipse cx="1797.15" cy="1404.79" rx="3.6" ry="4.6" fill="#B5B5B5"/>
<ellipse cx="1800.89" cy="1419.72" rx="3.6" ry="4.6" fill="#B5B5B5"/>
<ellipse cx="1804.62" cy="1438.39" rx="3.6" ry="4.6" fill="#B5B5B5"/>
<ellipse cx="1807.85" cy="1458.3" rx="3.6" ry="4.6" fill="#B5B5B5"/>
<ellipse cx="1814.08" cy="1404.79" rx="3.6" ry="4.6" fill="#B5B5B5"/>
<ellipse cx="1815.82" cy="1424.7" rx="3.6" ry="4.6" fill="#B5B5B5"/>
<ellipse cx="1828.76" cy="1362.48" rx="3.6" ry="4.6" fill="#B5B5B5"/>
<ellipse cx="1834.98" cy="1292.79" rx="3.6" ry="4.6" fill="#B5B5B5"/>
<ellipse cx="1837.47" cy="1325.15" rx="3.6" ry="4.6" fill="#B5B5B5"/>
<ellipse cx="1840.71" cy="1228.58" rx="3.6" ry="4.6" fill="#B5B5B5"/>
<ellipse cx="1848.92" cy="1109.87" rx="3.6" ry="4.6" fill="#B5B5B5"/>
<ellipse cx="1853.15" cy="1109.87" rx="3.6" ry="4.6" fill="#B5B5B5"/>
<ellipse cx="1858.13" cy="1109.87" rx="3.6" ry="4.6" fill="#B5B5B5"/>
<ellipse cx="1864.35" cy="1109.87" rx="3.6" ry="4.6" fill="#B5B5B5"/>
<ellipse cx="1872.31" cy="1109.87" rx="3.6" ry="4.6" fill="#B5B5B5"/>
<ellipse cx="1891.73" cy="1109.87" rx="3.6" ry="4.6" fill="#B5B5B5"/>
<ellipse cx="1921.59" cy="1109.87" rx="3.6" ry="4.6" fill="#B5B5B5"/>
<ellipse cx="1513.56" cy="1701.61" rx="3.6" ry="4.6" fill="#B5B5B5"/>
<ellipse cx="1516.3" cy="1700.06" rx="3.6" ry="4.6" fill="#B5B5B5"/>
<ellipse cx="1516.72" cy="1695.7" rx="3.6" ry="4.6" fill="#B5B5B5"/>
<ellipse cx="1517.15" cy="1691.34" rx="3.6" ry="4.6" fill="#B5B5B5"/>
<ellipse cx="1517.57" cy="1686.98" rx="3.6" ry="4.6" fill="#B5B5B5"/>
<ellipse cx="1519.4" cy="1678.04" rx="3.6" ry="4.6" fill="#B5B5B5"/>
<ellipse cx="1524.85" cy="1672.77" rx="3.6" ry="4.6" fill="#B5B5B5"/>
<ellipse cx="1526.08" cy="1668.55" rx="3.6" ry="4.6" fill="#B5B5B5"/>
<ellipse cx="1527.31" cy="1664.33" rx="3.6" ry="4.6" fill="#B5B5B5"/>
<ellipse cx="1530.19" cy="1664.33" rx="3.6" ry="4.6" fill="#B5B5B5"/>
<ellipse cx="1531.83" cy="1668.55" rx="3.6" ry="4.6" fill="#B5B5B5"/>
<ellipse cx="1534.41" cy="1669.02" rx="3.6" ry="4.6" fill="#B5B5B5"/>
<ellipse cx="1535.34" cy="1665.26" rx="3.6" ry="4.6" fill="#B5B5B5"/>
<ellipse cx="1539.1" cy="1659.05" rx="3.6" ry="4.6" fill="#B5B5B5"/>
<ellipse cx="1543.67" cy="1652.72" rx="3.6" ry="4.6" fill="#B5B5B5"/>
<ellipse cx="1549.88" cy="1644.16" rx="3.6" ry="4.6" fill="#B5B5B5"/>
<ellipse cx="1550.82" cy="1640.87" rx="3.6" ry="4.6" fill="#B5B5B5"/>
<ellipse cx="1554.22" cy="1639.7" rx="3.6" ry="4.6" fill="#B5B5B5"/>
<ellipse cx="1557.21" cy="1637.94" rx="3.6" ry="4.6" fill="#B5B5B5"/>
<ellipse cx="1557.74" cy="1634.07" rx="3.6" ry="4.6" fill="#B5B5B5"/>
<ellipse cx="1558.27" cy="1630.2" rx="3.6" ry="4.6" fill="#B5B5B5"/>
<ellipse cx="1559.36" cy="1631.26" rx="3.6" ry="4.6" fill="#B5B5B5"/>
<ellipse cx="1559.92" cy="1636.18" rx="3.6" ry="4.6" fill="#B5B5B5"/>
<ellipse cx="1560.48" cy="1641.11" rx="3.6" ry="4.6" fill="#B5B5B5"/>
<ellipse cx="1561.05" cy="1646.03" rx="3.6" ry="4.6" fill="#B5B5B5"/>
<ellipse cx="1563.02" cy="1655.18" rx="3.6" ry="4.6" fill="#B5B5B5"/>
<ellipse cx="1565.55" cy="1654.9" rx="3.6" ry="4.6" fill="#B5B5B5"/>
<ellipse cx="1566.68" cy="1650.4" rx="3.6" ry="4.6" fill="#B5B5B5"/>
<ellipse cx="1567.8" cy="1645.89" rx="3.6" ry="4.6" fill="#B5B5B5"/>
<ellipse cx="1568.93" cy="1641.39" rx="3.6" ry="4.6" fill="#B5B5B5"/>
<ellipse cx="1571.46" cy="1641.11" rx="3.6" ry="4.6" fill="#B5B5B5"/>
<ellipse cx="1576.38" cy="1644.8" rx="3.6" ry="4.6" fill="#B5B5B5"/>
<ellipse cx="1577.09" cy="1640.76" rx="3.6" ry="4.6" fill="#B5B5B5"/>
<ellipse cx="1577.79" cy="1636.71" rx="3.6" ry="4.6" fill="#B5B5B5"/>
<ellipse cx="1580.61" cy="1629.15" rx="3.6" ry="4.6" fill="#B5B5B5"/>
<ellipse cx="1582.72" cy="1625.63" rx="3.6" ry="4.6" fill="#B5B5B5"/>
<ellipse cx="1587.29" cy="1624.93" rx="3.6" ry="4.6" fill="#B5B5B5"/>
<ellipse cx="1590.22" cy="1623.05" rx="3.6" ry="4.6" fill="#B5B5B5"/>
<ellipse cx="1590.69" cy="1618.36" rx="3.6" ry="4.6" fill="#B5B5B5"/>
<ellipse cx="1591.16" cy="1613.67" rx="3.6" ry="4.6" fill="#B5B5B5"/>
<ellipse cx="1591.63" cy="1608.98" rx="3.6" ry="4.6" fill="#B5B5B5"/>
<ellipse cx="1592.1" cy="1604.29" rx="3.6" ry="4.6" fill="#B5B5B5"/>
<ellipse cx="1593.6" cy="1596.32" rx="3.6" ry="4.6" fill="#B5B5B5"/>
<ellipse cx="1594.63" cy="1593.03" rx="3.6" ry="4.6" fill="#B5B5B5"/>
<ellipse cx="1596.97" cy="1594.44" rx="3.6" ry="4.6" fill="#B5B5B5"/>
<ellipse cx="1598.29" cy="1599.13" rx="3.6" ry="4.6" fill="#B5B5B5"/>
<ellipse cx="1602.06" cy="1607.69" rx="3.6" ry="4.6" fill="#B5B5B5"/>
<ellipse cx="1604.99" cy="1608.04" rx="3.6" ry="4.6" fill="#B5B5B5"/>
<ellipse cx="1605.46" cy="1604.53" rx="3.6" ry="4.6" fill="#B5B5B5"/>
<ellipse cx="1606.92" cy="1605.51" rx="3.6" ry="4.6" fill="#B5B5B5"/>
<ellipse cx="1607.9" cy="1610.01" rx="3.6" ry="4.6" fill="#B5B5B5"/>
<ellipse cx="1608.89" cy="1614.52" rx="3.6" ry="4.6" fill="#B5B5B5"/>
<ellipse cx="1609.87" cy="1619.02" rx="3.6" ry="4.6" fill="#B5B5B5"/>
<ellipse cx="1611.84" cy="1619.3" rx="3.6" ry="4.6" fill="#B5B5B5"/>
<ellipse cx="1612.83" cy="1615.08" rx="3.6" ry="4.6" fill="#B5B5B5"/>
<ellipse cx="1613.81" cy="1610.86" rx="3.6" ry="4.6" fill="#B5B5B5"/>
<ellipse cx="1614.8" cy="1606.64" rx="3.6" ry="4.6" fill="#B5B5B5"/>
<ellipse cx="1617.19" cy="1605.93" rx="3.6" ry="4.6" fill="#B5B5B5"/>
<ellipse cx="1619.65" cy="1605.23" rx="3.6" ry="4.6" fill="#B5B5B5"/>
<ellipse cx="1622.82" cy="1596.55" rx="3.6" ry="4.6" fill="#B5B5B5"/>
<ellipse cx="1624.93" cy="1592.1" rx="3.6" ry="4.6" fill="#B5B5B5"/>
<ellipse cx="1629.85" cy="1591.16" rx="3.6" ry="4.6" fill="#B5B5B5"/>
<ellipse cx="1633.55" cy="1590.63" rx="3.6" ry="4.6" fill="#B5B5B5"/>
<ellipse cx="1634.43" cy="1586.59" rx="3.6" ry="4.6" fill="#B5B5B5"/>
<ellipse cx="1635.3" cy="1582.54" rx="3.6" ry="4.6" fill="#B5B5B5"/>
<ellipse cx="1637.59" cy="1574.98" rx="3.6" ry="4.6" fill="#B5B5B5"/>
<ellipse cx="1639" cy="1571.46" rx="3.6" ry="4.6" fill="#B5B5B5"/>
<ellipse cx="1640.41" cy="1567.94" rx="3.6" ry="4.6" fill="#B5B5B5"/>
<polyline points="1511.24,1698.8 1515.88,1704.43 1517.99,1682.62 1520.8,1673.47 1523.62,1676.99 1528.54,1660.1 1533.47,1672.77 1536.28,1661.51 1541.91,1656.59 1545.43,1648.85 1548.95,1647.44 1551.76,1637.59 1556.68,1641.81 1558.8,1626.33 1561.61,1650.96 1564.42,1659.4 1570.05,1636.89 1572.87,1645.33 1575.68,1648.85 1578.49,1632.67 1584.83,1622.11 1589.75,1627.74 1592.57,1599.6 1595.66,1589.75 1599.6,1603.82 1604.53,1611.56 1605.93,1601.01 1610.86,1623.52 1615.78,1602.41 1618.6,1609.45 1620.71,1601.01 1627.04,1587.64 1632.67,1594.68 1636.18,1578.49 1641.81,1564.42 1644.63,1573.57 1655.88,1559.5 1660.1,1588.34 1662.92,1570.05 1669.95,1582.72 1671.36,1567.24 1676.99,1551.76 1678.4,1532.76 1679.8,1541.91 1693.87,1525.03 1694.58,1533.47 1702.32,1515.18 1703.02,1525.03 1718.78,1504.62 1733.27,1527.84 1733.27,1539.1 1741.15,1490.65 1749.87,1503.1 1752.35,1475.72 1757.33,1490.65 1757.33,1519.27 1767.29,1488.16 1768.53,1453.32 1770.52,1417.98 1785.95,1378.66 1785.95,1391.1 1797.15,1404.79 1800.89,1419.72 1804.62,1438.39 1807.85,1458.3 1814.08,1404.79 1815.82,1424.7 1828.76,1362.48 1834.98,1292.79 1837.47,1325.15 1840.71,1228.58 1848.92,1109.87 1853.15,1109.87 1858.13,1109.87 1864.35,1109.87 1872.31,1109.87 1891.73,1109.87 1921.59,1109.87" fill="none" stroke="#000" stroke-width="1.9" stroke-linejoin="round"/>
<line x1="1487.1" y1="1081.5" x2="1982" y2="1081.5" stroke="#404040" stroke-width="1.8"/>
<line x1="1487.1" y1="1743.6" x2="1982" y2="1743.6" stroke="#404040" stroke-width="2.2"/>
<line x1="1487.9" y1="1081.5" x2="1487.9" y2="1743.6" stroke="#404040" stroke-width="1.6"/>
<line x1="1981.2" y1="1081.5" x2="1981.2" y2="1743.6" stroke="#404040" stroke-width="2.2"/>
<line x1="1482.1" y1="1700.8" x2="1487.9" y2="1700.8" stroke="#404040" stroke-width="2.8"/>
<line x1="1482.1" y1="1582.56" x2="1487.9" y2="1582.56" stroke="#404040" stroke-width="2.8"/>
<line x1="1482.1" y1="1464.32" x2="1487.9" y2="1464.32" stroke="#404040" stroke-width="2.8"/>
<line x1="1482.1" y1="1346.08" x2="1487.9" y2="1346.08" stroke="#404040" stroke-width="2.8"/>
<line x1="1482.1" y1="1227.84" x2="1487.9" y2="1227.84" stroke="#404040" stroke-width="2.8"/>
<line x1="1482.1" y1="1109.6" x2="1487.9" y2="1109.6" stroke="#404040" stroke-width="2.8"/>
<line x1="1495.6" y1="1743.6" x2="1495.6" y2="1752.2" stroke="#404040" stroke-width="2"/>
<line x1="1640.8" y1="1743.6" x2="1640.8" y2="1752.2" stroke="#404040" stroke-width="2"/>
<line x1="1786" y1="1743.6" x2="1786" y2="1752.2" stroke="#404040" stroke-width="2"/>
<line x1="1931.2" y1="1743.6" x2="1931.2" y2="1752.2" stroke="#404040" stroke-width="2"/>
<text transform="translate(1475.8,1711) scale(0.726,1)" font-size="25.7" text-anchor="end" fill="#4D4D4D" stroke="#4D4D4D" stroke-width="0.5">50%</text>
<text transform="translate(1475.8,1592.76) scale(0.726,1)" font-size="25.7" text-anchor="end" fill="#4D4D4D" stroke="#4D4D4D" stroke-width="0.5">60%</text>
<text transform="translate(1475.8,1474.52) scale(0.726,1)" font-size="25.7" text-anchor="end" fill="#4D4D4D" stroke="#4D4D4D" stroke-width="0.5">70%</text>
<text transform="translate(1475.8,1356.28) scale(0.726,1)" font-size="25.7" text-anchor="end" fill="#4D4D4D" stroke="#4D4D4D" stroke-width="0.5">80%</text>
<text transform="translate(1475.8,1238.04) scale(0.726,1)" font-size="25.7" text-anchor="end" fill="#4D4D4D" stroke="#4D4D4D" stroke-width="0.5">90%</text>
<text transform="translate(1475.8,1119.8) scale(0.726,1)" font-size="25.7" text-anchor="end" fill="#4D4D4D" stroke="#4D4D4D" stroke-width="0.5">100%</text>
<text transform="translate(1495.6,1777.7) scale(0.72,1)" font-size="26.2" text-anchor="middle" fill="#4D4D4D" stroke="#4D4D4D" stroke-width="0.5">0</text>
<text transform="translate(1640.8,1777.7) scale(0.72,1)" font-size="26.2" text-anchor="middle" fill="#4D4D4D" stroke="#4D4D4D" stroke-width="0.5">50</text>
<text transform="translate(1786,1777.7) scale(0.72,1)" font-size="26.2" text-anchor="middle" fill="#4D4D4D" stroke="#4D4D4D" stroke-width="0.5">100</text>
<text transform="translate(1931.2,1777.7) scale(0.72,1)" font-size="26.2" text-anchor="middle" fill="#4D4D4D" stroke="#4D4D4D" stroke-width="0.5">150</text>
<text transform="translate(1733.8,1812.3) scale(0.799,1)" font-size="30" text-anchor="middle" fill="#000" stroke="#000" stroke-width="0.5">median membrane OD</text>
<text transform="translate(1417,1412.5) rotate(-90) scale(1.024,0.8)" font-size="30.5" text-anchor="middle" fill="#000" stroke="#000" stroke-width="0.5">ORR in positive group</text>
<text transform="translate(1510.5,1142.7) scale(0.78,1)" font-size="31" fill="#000" stroke="#000" stroke-width="0.5"><tspan font-style="italic">R</tspan> = 0.93</text>
</svg>
</body></html>
